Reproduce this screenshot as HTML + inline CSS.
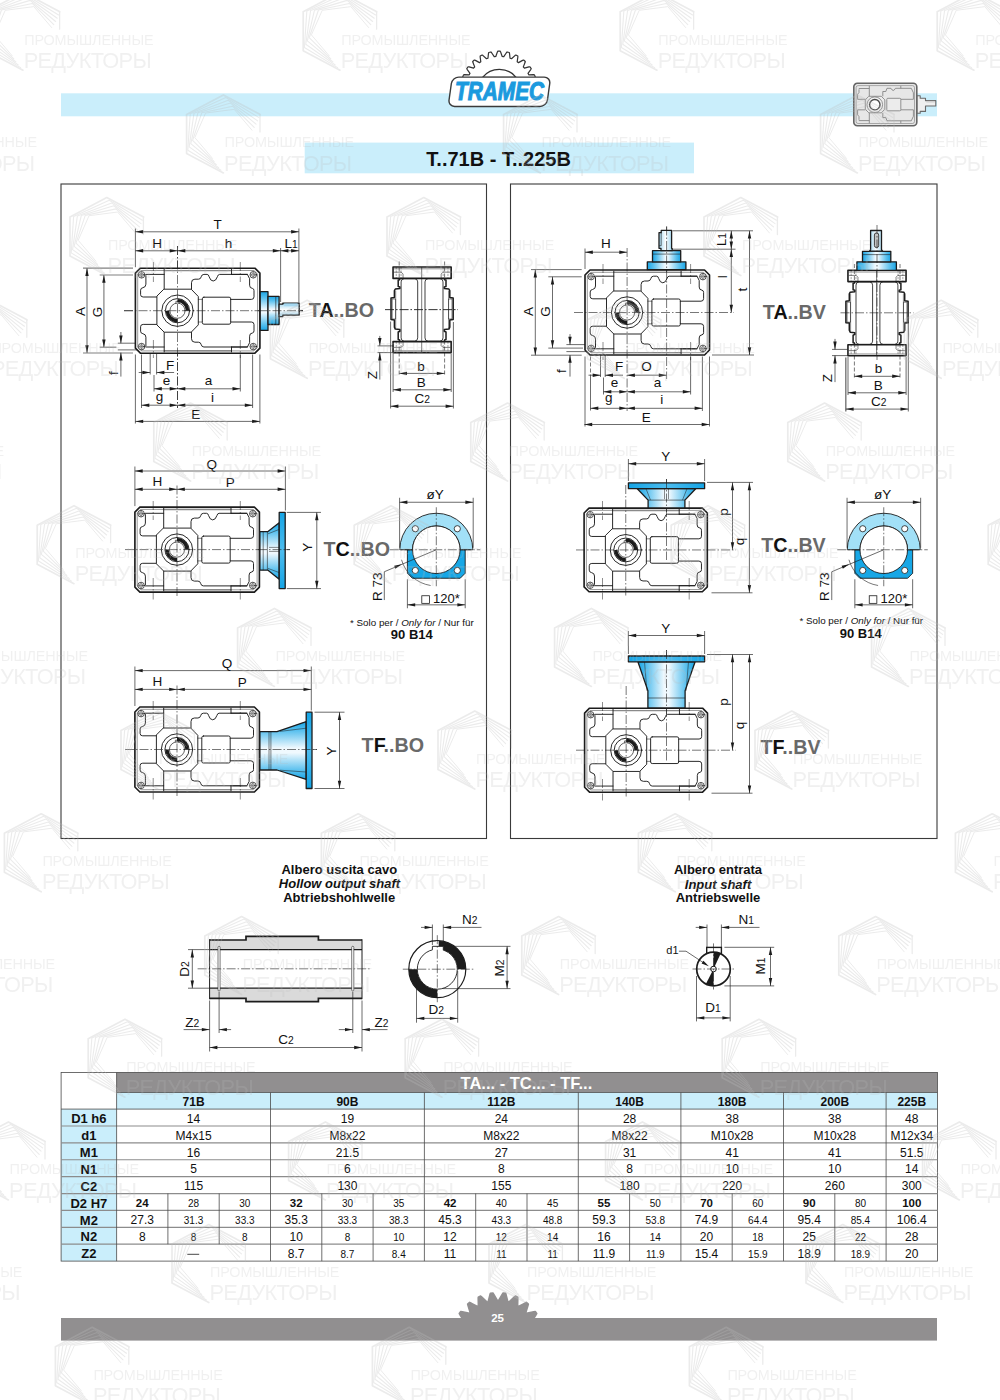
<!DOCTYPE html>
<html lang="en"><head><meta charset="utf-8"><title>T..71B - T..225B</title>
<style>
html,body{margin:0;padding:0;background:#fff;}
body{width:1000px;height:1400px;overflow:hidden;font-family:"Liberation Sans",sans-serif;}
svg{display:block;font-family:"Liberation Sans",sans-serif;}
</style></head><body>
<svg width="1000" height="1400" viewBox="0 0 1000 1400">
<defs>
<linearGradient id="bv" x1="0" y1="0" x2="0" y2="1">
<stop offset="0" stop-color="#1aa5e5"/><stop offset="0.15" stop-color="#56bfee"/><stop offset="0.46" stop-color="#f0f9fe"/><stop offset="0.54" stop-color="#f0f9fe"/><stop offset="0.85" stop-color="#56bfee"/><stop offset="1" stop-color="#1aa5e5"/>
</linearGradient>
<linearGradient id="bh" x1="0" y1="0" x2="1" y2="0">
<stop offset="0" stop-color="#1aa5e5"/><stop offset="0.15" stop-color="#56bfee"/><stop offset="0.46" stop-color="#f0f9fe"/><stop offset="0.54" stop-color="#f0f9fe"/><stop offset="0.85" stop-color="#56bfee"/><stop offset="1" stop-color="#1aa5e5"/>
</linearGradient>
<linearGradient id="sv" x1="0" y1="0" x2="0" y2="1">
<stop offset="0" stop-color="#9fd6f0"/><stop offset="0.5" stop-color="#ffffff"/><stop offset="1" stop-color="#9fd6f0"/>
</linearGradient>
<linearGradient id="sh" x1="0" y1="0" x2="1" y2="0">
<stop offset="0" stop-color="#9fd6f0"/><stop offset="0.5" stop-color="#ffffff"/><stop offset="1" stop-color="#9fd6f0"/>
</linearGradient>
<linearGradient id="pv" x1="0" y1="0" x2="0" y2="1"><stop offset="0" stop-color="#14a4e5"/><stop offset="0.5" stop-color="#4dbcee"/><stop offset="1" stop-color="#14a4e5"/></linearGradient>
<linearGradient id="ph" x1="0" y1="0" x2="1" y2="0"><stop offset="0" stop-color="#14a4e5"/><stop offset="0.5" stop-color="#4dbcee"/><stop offset="1" stop-color="#14a4e5"/></linearGradient>
</defs>
<rect x="0" y="0" width="1000" height="1400" fill="#ffffff"/>

<rect x="61" y="93.3" width="876" height="23" fill="#caeefb"/>
<rect x="304.7" y="142.6" width="389.3" height="30.7" fill="#caeefb"/>
<text x="498.6" y="165.8" font-size="20" text-anchor="middle" font-weight="bold" font-style="normal" fill="#111">T..71B - T..225B</text>
<path d="M466.97,80.78 L463.43,77.75 L462.72,76.93 L463.51,74.85 L464.58,74.7 L469.24,74.79 L469.6,74.07 L469.98,73.37 L467.27,69.58 L466.78,68.61 L468.04,66.78 L469.12,66.9 L473.62,68.09 L474.15,67.48 L474.69,66.89 L472.96,62.56 L472.71,61.51 L474.38,60.03 L475.4,60.4 L479.49,62.64 L480.14,62.18 L480.81,61.73 L480.16,57.12 L480.18,56.03 L482.15,55 L483.05,55.6 L486.48,58.75 L487.23,58.46 L487.98,58.18 L488.46,53.55 L488.73,52.5 L490.9,51.97 L491.62,52.77 L494.2,56.65 L495,56.54 L495.8,56.45 L497.37,52.07 L497.89,51.12 L500.11,51.12 L500.63,52.07 L502.2,56.45 L503,56.54 L503.8,56.65 L506.38,52.77 L507.1,51.97 L509.27,52.5 L509.54,53.55 L510.02,58.18 L510.77,58.46 L511.52,58.75 L514.95,55.6 L515.85,55 L517.82,56.03 L517.84,57.12 L517.19,61.73 L517.86,62.18 L518.51,62.64 L522.6,60.4 L523.62,60.03 L525.29,61.51 L525.04,62.56 L523.31,66.89 L523.85,67.48 L524.38,68.09 L528.88,66.9 L529.96,66.78 L531.22,68.61 L530.73,69.58 L528.02,73.37 L528.4,74.07 L528.76,74.79 L533.42,74.7 L534.49,74.85 L535.28,76.93 L534.57,77.75 L531.03,80.78" fill="#fff" stroke="#333" stroke-width="1.2" stroke-linejoin="round"/>
<path d="M482.5,77.3 A21.6,21.6 0 0 1 516.1,77.3 Z" fill="#fff" stroke="#333" stroke-width="1.2" stroke-linejoin="round"/>
<g transform="translate(499.4 91.8) skewX(-8)"><rect x="-49.2" y="-14.7" width="98.4" height="29.4" rx="6.5" ry="6.5" fill="#fff" stroke="#3a3a3a" stroke-width="1.4"/></g>
<text x="499.6" y="100.2" font-size="25" text-anchor="middle" font-weight="bold" font-style="italic" fill="#1b9ade" textLength="89" lengthAdjust="spacingAndGlyphs" stroke="#1b9ade" stroke-width="1.1">TRAMEC</text>
<g transform="translate(853.8 83.3)" stroke="#7a7a7a" stroke-width="0.8" fill="#e7e7e7" stroke-linejoin="round">
<path d="M63,12.5 H66.4 V14.9 H71.7 V17.3 H82 V22.7 H71.7 V28.1 H66.4 V30 H63 Z" fill="#efefef" stroke="#6a6a6a" stroke-width="1.1"/>
<path d="M72.5,17.6 H81 V19.2 H72.5 Z" fill="#cfcfcf" stroke="none"/>
<rect x="0" y="0" width="63" height="42.5" rx="3.5" ry="3.5" stroke="#666" stroke-width="1.6"/>
<rect x="2.3" y="2.3" width="58.4" height="37.9" rx="2" ry="2" fill="none" stroke-width="0.6"/>
<path d="M15.5,2.5 V13 M15.5,40 V29.5 M5,5.2 H15.5 M5,37.3 H15.5 M47,2.6 V5 M47,40 V37.5" fill="none"/>
<path d="M5.2,6 V9.2 L3.8,11 V16 H11.5 M5.2,36.5 V33.3 L3.8,31.5 V26.5 H11.5" fill="none"/>
<path d="M15,13 H27.5 L31,16.5 V26 L27.5,29.5 H15 L11.5,26 V16.5 Z" fill="#ececec"/>
<path d="M29,13 V8.2 H32 L33.2,5 H37.2 Q39.4,9.4 41.6,5 H57.5 L59.6,9.5 V16 H47" fill="none"/>
<path d="M29,29.5 V34.3 H32 L33.2,37.5 H57.5 L59.6,33 V26.5 H47" fill="none"/>
<rect x="33" y="15" width="14" height="12.5" rx="1" fill="#ececec"/>
<circle cx="21" cy="21.4" r="7.8" fill="#f2f2f2"/><circle cx="21" cy="21.4" r="5.2" fill="#fff" stroke="#4a4a4a" stroke-width="1.4"/>
</g>
<rect x="61" y="184" width="425.5" height="654.5" fill="none" stroke="#3a3a3a" stroke-width="1.1"/>
<rect x="510.5" y="184" width="426.5" height="654.5" fill="none" stroke="#3a3a3a" stroke-width="1.1"/>
<line x1="124" y1="310.7" x2="303" y2="310.7" stroke="#1c1c1c" stroke-width="0.6" stroke-dasharray="9 2 1.5 2"/>
<line x1="177.5" y1="246" x2="177.5" y2="408" stroke="#1c1c1c" stroke-width="0.6" stroke-dasharray="9 2 1.5 2"/>
<line x1="135.4" y1="228.5" x2="135.4" y2="267.2" stroke="#1c1c1c" stroke-width="0.65"/>
<line x1="298.9" y1="228.5" x2="298.9" y2="302.5" stroke="#1c1c1c" stroke-width="0.65"/>
<line x1="280.6" y1="248" x2="280.6" y2="302" stroke="#1c1c1c" stroke-width="0.65"/>
<line x1="135.4" y1="231.8" x2="298.9" y2="231.8" stroke="#1c1c1c" stroke-width="0.65"/>
<path d="M135.4,231.8 L143.2,230.1 L143.2,233.5 Z" fill="#1c1c1c"/>
<path d="M298.9,231.8 L291.1,233.5 L291.1,230.1 Z" fill="#1c1c1c"/>
<line x1="135.4" y1="250.8" x2="177.5" y2="250.8" stroke="#1c1c1c" stroke-width="0.65"/>
<path d="M135.4,250.8 L143.2,249.1 L143.2,252.5 Z" fill="#1c1c1c"/>
<path d="M177.5,250.8 L169.7,252.5 L169.7,249.1 Z" fill="#1c1c1c"/>
<line x1="177.5" y1="250.8" x2="280.6" y2="250.8" stroke="#1c1c1c" stroke-width="0.65"/>
<path d="M177.5,250.8 L185.3,249.1 L185.3,252.5 Z" fill="#1c1c1c"/>
<path d="M280.6,250.8 L272.8,252.5 L272.8,249.1 Z" fill="#1c1c1c"/>
<line x1="280.6" y1="250.8" x2="298.9" y2="250.8" stroke="#1c1c1c" stroke-width="0.65"/>
<path d="M280.6,250.8 L288.4,249.1 L288.4,252.5 Z" fill="#1c1c1c"/>
<path d="M298.9,250.8 L291.1,252.5 L291.1,249.1 Z" fill="#1c1c1c"/>
<text x="217.6" y="228.9" font-size="13.5" text-anchor="middle" font-weight="normal" font-style="normal" fill="#111">T</text>
<text x="157.2" y="248.4" font-size="13.5" text-anchor="middle" font-weight="normal" font-style="normal" fill="#111">H</text>
<text x="228.6" y="248.4" font-size="13.5" text-anchor="middle" font-weight="normal" font-style="normal" fill="#111">h</text>
<text x="291" y="248.4" font-size="13.5" text-anchor="middle" font-weight="normal" font-style="normal" fill="#111">L<tspan font-size="10.26">1</tspan></text>
<line x1="83" y1="268.1" x2="133" y2="268.1" stroke="#808080" stroke-width="1.2"/>
<line x1="83" y1="353" x2="133" y2="353" stroke="#808080" stroke-width="1.2"/>
<line x1="99.7" y1="275" x2="133" y2="275" stroke="#808080" stroke-width="1.2"/>
<line x1="99.7" y1="347.2" x2="116.4" y2="347.2" stroke="#808080" stroke-width="1.2"/>
<line x1="87" y1="268.1" x2="87" y2="353" stroke="#808080" stroke-width="1.2"/>
<path d="M87,268.1 L88.7,275.9 L85.3,275.9 Z" fill="#1c1c1c"/>
<path d="M87,353 L85.3,345.2 L88.7,345.2 Z" fill="#1c1c1c"/>
<line x1="103.9" y1="275" x2="103.9" y2="347.2" stroke="#808080" stroke-width="1.2"/>
<path d="M103.9,275 L105.6,282.8 L102.2,282.8 Z" fill="#1c1c1c"/>
<path d="M103.9,347.2 L102.2,339.4 L105.6,339.4 Z" fill="#1c1c1c"/>
<text x="84.6" y="311.6" font-size="13.5" text-anchor="middle" font-weight="normal" font-style="normal" fill="#111" transform="rotate(-90 84.6 311.6)">A</text>
<text x="101.6" y="312" font-size="13.5" text-anchor="middle" font-weight="normal" font-style="normal" fill="#111" transform="rotate(-90 101.6 312)">G</text>
<line x1="117.8" y1="343.2" x2="138" y2="343.2" stroke="#1c1c1c" stroke-width="0.65"/>
<line x1="117.8" y1="349.9" x2="138" y2="349.9" stroke="#1c1c1c" stroke-width="0.65"/>
<line x1="120.9" y1="332" x2="120.9" y2="343.2" stroke="#1c1c1c" stroke-width="0.65"/>
<line x1="120.9" y1="352.6" x2="120.9" y2="376.6" stroke="#1c1c1c" stroke-width="0.65"/>
<path d="M120.9,343.2 L119.2,335.4 L122.6,335.4 Z" fill="#1c1c1c"/>
<path d="M120.9,352.6 L122.6,360.4 L119.2,360.4 Z" fill="#1c1c1c"/>
<text x="118.4" y="373" font-size="13.5" text-anchor="middle" font-weight="normal" font-style="normal" fill="#111" transform="rotate(-90 118.4 373)">f</text>
<line x1="135.4" y1="354.5" x2="135.4" y2="423.5" stroke="#1c1c1c" stroke-width="0.65"/>
<line x1="259.9" y1="354.5" x2="259.9" y2="423.5" stroke="#1c1c1c" stroke-width="0.65"/>
<line x1="141.5" y1="354.5" x2="141.5" y2="408" stroke="#1c1c1c" stroke-width="0.65"/>
<line x1="150.2" y1="347" x2="150.2" y2="374.5" stroke="#1c1c1c" stroke-width="0.65"/>
<line x1="156.6" y1="347" x2="156.6" y2="374.5" stroke="#1c1c1c" stroke-width="0.65"/>
<line x1="154" y1="375" x2="154" y2="391.5" stroke="#1c1c1c" stroke-width="0.65"/>
<line x1="240.3" y1="354.5" x2="240.3" y2="391.5" stroke="#1c1c1c" stroke-width="0.65"/>
<line x1="252.6" y1="354.5" x2="252.6" y2="408" stroke="#1c1c1c" stroke-width="0.65"/>
<line x1="138.7" y1="372.5" x2="150.2" y2="372.5" stroke="#1c1c1c" stroke-width="0.65"/>
<line x1="156.6" y1="372.5" x2="174.1" y2="372.5" stroke="#1c1c1c" stroke-width="0.65"/>
<path d="M150.2,372.5 L142.4,374.2 L142.4,370.8 Z" fill="#1c1c1c"/>
<path d="M156.6,372.5 L164.4,370.8 L164.4,374.2 Z" fill="#1c1c1c"/>
<text x="170.2" y="370" font-size="13.5" text-anchor="middle" font-weight="normal" font-style="normal" fill="#111">F</text>
<line x1="154" y1="388.8" x2="177.5" y2="388.8" stroke="#1c1c1c" stroke-width="0.65"/>
<path d="M154,388.8 L161.8,387.1 L161.8,390.5 Z" fill="#1c1c1c"/>
<path d="M177.5,388.8 L169.7,390.5 L169.7,387.1 Z" fill="#1c1c1c"/>
<line x1="177.5" y1="388.8" x2="240.3" y2="388.8" stroke="#1c1c1c" stroke-width="0.65"/>
<path d="M177.5,388.8 L185.3,387.1 L185.3,390.5 Z" fill="#1c1c1c"/>
<path d="M240.3,388.8 L232.5,390.5 L232.5,387.1 Z" fill="#1c1c1c"/>
<text x="166.4" y="385.2" font-size="13.5" text-anchor="middle" font-weight="normal" font-style="normal" fill="#111">e</text>
<text x="208.4" y="385.2" font-size="13.5" text-anchor="middle" font-weight="normal" font-style="normal" fill="#111">a</text>
<line x1="141.5" y1="405.2" x2="177.5" y2="405.2" stroke="#1c1c1c" stroke-width="0.65"/>
<path d="M141.5,405.2 L149.3,403.5 L149.3,406.9 Z" fill="#1c1c1c"/>
<path d="M177.5,405.2 L169.7,406.9 L169.7,403.5 Z" fill="#1c1c1c"/>
<line x1="177.5" y1="405.2" x2="252.6" y2="405.2" stroke="#1c1c1c" stroke-width="0.65"/>
<path d="M177.5,405.2 L185.3,403.5 L185.3,406.9 Z" fill="#1c1c1c"/>
<path d="M252.6,405.2 L244.8,406.9 L244.8,403.5 Z" fill="#1c1c1c"/>
<text x="159.5" y="400.8" font-size="13.5" text-anchor="middle" font-weight="normal" font-style="normal" fill="#111">g</text>
<text x="212.6" y="401.6" font-size="13.5" text-anchor="middle" font-weight="normal" font-style="normal" fill="#111">i</text>
<line x1="135.4" y1="421.4" x2="259.9" y2="421.4" stroke="#1c1c1c" stroke-width="0.65"/>
<path d="M135.4,421.4 L143.2,419.7 L143.2,423.1 Z" fill="#1c1c1c"/>
<path d="M259.9,421.4 L252.1,423.1 L252.1,419.7 Z" fill="#1c1c1c"/>
<text x="195.8" y="418.8" font-size="13.5" text-anchor="middle" font-weight="normal" font-style="normal" fill="#111">E</text>
<g transform="translate(135.4 268.2)" fill="none" stroke="#1c1c1c" stroke-width="0.95" stroke-linejoin="round" stroke-linecap="round">
<path d="M5,0 H119.5 L124.5,5 V80.0 L119.5,85.0 H5 L0,80.0 V5 Z" fill="#fff" stroke-width="1.65"/>
<path d="M6,2.3 H118.5 L122.2,6 V79.0 L118.5,82.7 H6 L2.3,79.0 V6 Z" stroke="#555" stroke-width="0.6"/>
<path d="M29,2.4 H96 M29,82.6 H96" stroke="#8a8a8a" stroke-width="1.4"/>
<path d="M10.5,6.2 H28.8 M96.1,6.2 H112"/>
<path d="M28.8,1.2 V21 M96.1,1.2 V6.2"/>
<path d="M10.5,7.5 V16 Q10.5,19 7.5,19.5 Q5.2,19.8 5.2,22 V26.5 Q5.2,28.8 7.8,28.8 H21.5"/>
<path d="M56.1,21 V14.5 Q56.1,11 59.5,11 H63 Q65.3,11 65.8,8.6 Q66.3,6.2 68.5,6.2 H71.7 Q73.2,6.2 73.7,8.5 Q75,12.8 77.8,12.8 Q80.6,12.8 82,8.5 Q82.6,6.2 84.2,6.2 H112 L114.2,10.5 V17 Q114.2,20 117,20.2 Q118.6,20.4 118.6,22.5 V28.6 Q118.6,31.2 116,31.2 H95.3"/>
<circle cx="6.2" cy="6.6" r="3.3" fill="#fff" stroke-width="0.75"/>
<circle cx="6.2" cy="6.6" r="1.8" fill="#fff" stroke-width="0.45"/>
<path d="M6.2,3.7 V9.5 M3.3,6.6 H9.1" stroke-width="0.4"/>
<circle cx="117.9" cy="6.6" r="3.3" fill="#fff" stroke-width="0.75"/>
<circle cx="117.9" cy="6.6" r="1.8" fill="#fff" stroke-width="0.45"/>
<path d="M117.9,3.7 V9.5 M115,6.6 H120.8" stroke-width="0.4"/>
<path d="M10.5,78.8 H28.8 M96.1,78.8 H112"/>
<path d="M28.8,83.8 V64 M96.1,83.8 V78.8"/>
<path d="M10.5,77.5 V69 Q10.5,66 7.5,65.5 Q5.2,65.2 5.2,63 V58.5 Q5.2,56.2 7.8,56.2 H21.5"/>
<path d="M56.1,64 V70.5 Q56.1,74 59.5,74 H63 Q65.3,74 65.8,76.4 Q66.3,78.8 68.5,78.8 H112 L114.2,74.5 V68 Q114.2,65 117,64.8 Q118.6,64.6 118.6,62.5 V56.4 Q118.6,53.8 116,53.8 H95.3"/>
<circle cx="6.2" cy="78.4" r="3.3" fill="#fff" stroke-width="0.75"/>
<circle cx="6.2" cy="78.4" r="1.8" fill="#fff" stroke-width="0.45"/>
<path d="M6.2,75.5 V81.3 M3.3,78.4 H9.1" stroke-width="0.4"/>
<circle cx="117.9" cy="78.4" r="3.3" fill="#fff" stroke-width="0.75"/>
<circle cx="117.9" cy="78.4" r="1.8" fill="#fff" stroke-width="0.45"/>
<path d="M117.9,75.5 V81.3 M115,78.4 H120.8" stroke-width="0.4"/>
<path d="M28.8,21 H55.8 L62.9,28.3 V56.7 L55.8,64 H28.8 L21.5,56.7 V28.3 Z" fill="#fff"/>
<rect x="66.9" y="29" width="28.4" height="27" rx="1.6" ry="1.6"/>
<path d="M62.9,31.2 H66.9 M62.9,53.8 H66.9" stroke-width="0.55"/>
<circle cx="42.1" cy="42.5" r="15.7" fill="#fff"/>
<circle cx="42.1" cy="42.5" r="12.1"/>
<circle cx="42.1" cy="42.5" r="7.6" stroke-width="0.7"/>
<path d="M42.1,32.5 A10.0,10.0 0 0 1 52.1,42.5" stroke-width="3.3" stroke-linecap="butt"/>
<path d="M32.1,42.5 A10.0,10.0 0 0 0 42.1,52.5" stroke-width="3.3" stroke-linecap="butt"/>
<path d="M40.5,34.8 V33.1 H43.7 V34.8" stroke-width="0.6"/>
</g>
<line x1="124" y1="310.7" x2="303" y2="310.7" stroke="#1c1c1c" stroke-width="0.6" stroke-dasharray="9 2 1.5 2"/>
<line x1="177.5" y1="246" x2="177.5" y2="408" stroke="#1c1c1c" stroke-width="0.6" stroke-dasharray="9 2 1.5 2"/>
<line x1="153.4" y1="262" x2="153.4" y2="282" stroke="#1c1c1c" stroke-width="0.5" stroke-dasharray="9 2 1.5 2"/>
<line x1="240.3" y1="262" x2="240.3" y2="282" stroke="#1c1c1c" stroke-width="0.5" stroke-dasharray="9 2 1.5 2"/>
<line x1="153.4" y1="340" x2="153.4" y2="358" stroke="#1c1c1c" stroke-width="0.5" stroke-dasharray="9 2 1.5 2"/>
<line x1="240.3" y1="340" x2="240.3" y2="358" stroke="#1c1c1c" stroke-width="0.5" stroke-dasharray="9 2 1.5 2"/>
<g stroke="#1c1c1c" stroke-width="1.3" stroke-linejoin="round">
<rect x="260.2" y="291.7" width="7.8" height="38.7" fill="url(#bv)"/>
<rect x="268" y="296.3" width="11.1" height="28.2" fill="url(#bv)"/>
<path d="M275.8,296.3 V324.5" stroke-width="0.6"/>
<path d="M279.1,304.2 H282.8 V303.1 H299.2 V315.1 H282.8 V316.6 H279.1 Z" fill="url(#sv)"/>
<path d="M284.2,303.4 H297.6 V306.2 H284.2 Z" fill="#a5d8f1" stroke="none"/>
</g>
<line x1="258" y1="310.7" x2="303" y2="310.7" stroke="#1c1c1c" stroke-width="0.6" stroke-dasharray="9 2 1.5 2"/>
<text x="308.8" y="316.8" font-size="19.7" font-weight="bold" fill="#696969">T<tspan fill="#111">A</tspan>..BO</text>
<line x1="385" y1="309.6" x2="458" y2="309.6" stroke="#1c1c1c" stroke-width="0.6" stroke-dasharray="9 2 1.5 2"/>
<line x1="399.2" y1="261.5" x2="399.2" y2="279" stroke="#1c1c1c" stroke-width="0.6" stroke-dasharray="4 2"/>
<line x1="444.6" y1="261.5" x2="444.6" y2="279" stroke="#1c1c1c" stroke-width="0.6" stroke-dasharray="4 2"/>
<line x1="399.2" y1="340.5" x2="399.2" y2="374.5" stroke="#1c1c1c" stroke-width="0.6" stroke-dasharray="4 2"/>
<line x1="444.6" y1="340.5" x2="444.6" y2="374.5" stroke="#1c1c1c" stroke-width="0.6" stroke-dasharray="4 2"/>
<line x1="393.1" y1="353.5" x2="393.1" y2="392" stroke="#1c1c1c" stroke-width="0.65"/>
<line x1="451.2" y1="353.5" x2="451.2" y2="392" stroke="#1c1c1c" stroke-width="0.65"/>
<line x1="390.6" y1="321.5" x2="390.6" y2="408.5" stroke="#1c1c1c" stroke-width="0.65"/>
<line x1="453.4" y1="322" x2="453.4" y2="408.5" stroke="#1c1c1c" stroke-width="0.65"/>
<g transform="translate(422.1 309.6)" fill="none" stroke="#1c1c1c" stroke-width="0.7" stroke-linejoin="round">
<path d="M-22.4,-31.2 L-22.4,-29.8 L-23.9,-29.5 L-23.9,-23 L-22.2,-22.6 L-22.2,-21 L-26.8,-20.6 L-27.7,-19 L-27.7,-12 L-31.1,-11.5 L-31.1,9.9 L-27.7,10.3 L-27.7,17.5 L-26.8,19.5 L-22.2,19.9 L-22.2,21.6 L-23.9,22.4 L-23.9,30 L-22.4,30.3 L-22.4,31.9" stroke-width="1.5"/>
<rect x="-29.9" y="-10.6" width="3.4" height="20" stroke-width="0.55"/>
<path d="M-26.4,-19 V19" stroke-width="0.5"/>
<path d="M22.4,-31.2 L22.4,-29.8 L23.9,-29.5 L23.9,-23 L22.2,-22.6 L22.2,-21 L26.8,-20.6 L27.7,-19 L27.7,-12 L31.1,-11.5 L31.1,9.9 L27.7,10.3 L27.7,17.5 L26.8,19.5 L22.2,19.9 L22.2,21.6 L23.9,22.4 L23.9,30 L22.4,30.3 L22.4,31.9" stroke-width="1.5"/>
<rect x="26.5" y="-10.6" width="3.4" height="20" stroke-width="0.55"/>
<path d="M26.4,-19 V19" stroke-width="0.5"/>
<rect x="-21.0" y="-30.9" width="16.6" height="62.4" rx="3.2" ry="3.2" stroke-width="0.85"/>
<rect x="2.9" y="-30.9" width="18.0" height="62.4" rx="3.2" ry="3.2" stroke-width="0.85"/>
<path d="M-0.4,-42.6 V43" stroke-width="0.6"/>
<rect x="-29.05" y="-42.6" width="58.1" height="11.4" stroke-width="1.6" fill="none"/>
<path d="M-28.05,-40.8 H28.05" stroke-width="0.5"/>
<path d="M28.25,-37.4 H20.85 L19.05,-35.6 V-31.2" stroke-width="0.55"/>
<path d="M25.85,-42.6 V-31.2 M21.05,-42.6 V-31.2" stroke-width="0.4" stroke-dasharray="2.2 1.2"/>
<path d="M-28.25,-37.4 H-20.85 L-19.05,-35.6 V-31.2" stroke-width="0.55"/>
<path d="M-25.85,-42.6 V-31.2 M-21.05,-42.6 V-31.2" stroke-width="0.4" stroke-dasharray="2.2 1.2"/>
<rect x="-29.05" y="32.0" width="58.1" height="11" stroke-width="1.6" fill="none"/>
<path d="M-28.05,41.2 H28.05" stroke-width="0.5"/>
<path d="M28.25,37.8 H20.85 L19.05,36 V32" stroke-width="0.55"/>
<path d="M25.85,32 V43 M21.05,32 V43" stroke-width="0.4" stroke-dasharray="2.2 1.2"/>
<path d="M-28.25,37.8 H-20.85 L-19.05,36 V32" stroke-width="0.55"/>
<path d="M-25.85,32 V43 M-21.05,32 V43" stroke-width="0.4" stroke-dasharray="2.2 1.2"/>
</g>
<line x1="385" y1="309.6" x2="458" y2="309.6" stroke="#1c1c1c" stroke-width="0.6" stroke-dasharray="9 2 1.5 2"/>
<line x1="377.5" y1="345.9" x2="393" y2="345.9" stroke="#1c1c1c" stroke-width="0.65"/>
<line x1="377.5" y1="352.6" x2="393" y2="352.6" stroke="#1c1c1c" stroke-width="0.65"/>
<line x1="379.8" y1="335.9" x2="379.8" y2="345.9" stroke="#1c1c1c" stroke-width="0.65"/>
<line x1="379.8" y1="352.6" x2="379.8" y2="379.6" stroke="#1c1c1c" stroke-width="0.65"/>
<path d="M379.8,345.9 L378.1,338.1 L381.5,338.1 Z" fill="#1c1c1c"/>
<path d="M379.8,352.6 L381.5,360.4 L378.1,360.4 Z" fill="#1c1c1c"/>
<text x="377" y="375" font-size="13.5" text-anchor="middle" font-weight="normal" font-style="normal" fill="#111" transform="rotate(-90 377 375)">Z</text>
<line x1="399.2" y1="373.4" x2="444.6" y2="373.4" stroke="#1c1c1c" stroke-width="0.65"/>
<path d="M399.2,373.4 L407,371.7 L407,375.1 Z" fill="#1c1c1c"/>
<path d="M444.6,373.4 L436.8,375.1 L436.8,371.7 Z" fill="#1c1c1c"/>
<text x="421" y="370.6" font-size="13.5" text-anchor="middle" font-weight="normal" font-style="normal" fill="#111">b</text>
<line x1="393.1" y1="389.8" x2="451.2" y2="389.8" stroke="#1c1c1c" stroke-width="0.65"/>
<path d="M393.1,389.8 L400.9,388.1 L400.9,391.5 Z" fill="#1c1c1c"/>
<path d="M451.2,389.8 L443.4,391.5 L443.4,388.1 Z" fill="#1c1c1c"/>
<text x="421.2" y="386.6" font-size="13.5" text-anchor="middle" font-weight="normal" font-style="normal" fill="#111">B</text>
<line x1="390.6" y1="406.2" x2="453.4" y2="406.2" stroke="#1c1c1c" stroke-width="0.65"/>
<path d="M390.6,406.2 L398.4,404.5 L398.4,407.9 Z" fill="#1c1c1c"/>
<path d="M453.4,406.2 L445.6,407.9 L445.6,404.5 Z" fill="#1c1c1c"/>
<text x="422.2" y="403" font-size="13.5" text-anchor="middle" font-weight="normal" font-style="normal" fill="#111">C<tspan font-size="10.26">2</tspan></text>
<line x1="134.9" y1="466.5" x2="134.9" y2="506.1" stroke="#1c1c1c" stroke-width="0.65"/>
<line x1="285.4" y1="466.5" x2="285.4" y2="510.5" stroke="#1c1c1c" stroke-width="0.65"/>
<line x1="134.9" y1="471" x2="285.4" y2="471" stroke="#1c1c1c" stroke-width="0.65"/>
<path d="M134.9,471 L142.7,469.3 L142.7,472.7 Z" fill="#1c1c1c"/>
<path d="M285.4,471 L277.6,472.7 L277.6,469.3 Z" fill="#1c1c1c"/>
<text x="211.8" y="468.6" font-size="13.5" text-anchor="middle" font-weight="normal" font-style="normal" fill="#111">Q</text>
<line x1="134.9" y1="489.3" x2="177" y2="489.3" stroke="#1c1c1c" stroke-width="0.65"/>
<path d="M134.9,489.3 L142.7,487.6 L142.7,491 Z" fill="#1c1c1c"/>
<path d="M177,489.3 L169.2,491 L169.2,487.6 Z" fill="#1c1c1c"/>
<line x1="177" y1="489.3" x2="285.4" y2="489.3" stroke="#1c1c1c" stroke-width="0.65"/>
<path d="M177,489.3 L184.8,487.6 L184.8,491 Z" fill="#1c1c1c"/>
<path d="M285.4,489.3 L277.6,491 L277.6,487.6 Z" fill="#1c1c1c"/>
<text x="157.4" y="485.6" font-size="13.5" text-anchor="middle" font-weight="normal" font-style="normal" fill="#111">H</text>
<text x="230.3" y="487.4" font-size="13.5" text-anchor="middle" font-weight="normal" font-style="normal" fill="#111">P</text>
<g transform="translate(134.9 507.1)" fill="none" stroke="#1c1c1c" stroke-width="0.95" stroke-linejoin="round" stroke-linecap="round">
<path d="M5,0 H119.5 L124.5,5 V80.0 L119.5,85.0 H5 L0,80.0 V5 Z" fill="#fff" stroke-width="1.65"/>
<path d="M6,2.3 H118.5 L122.2,6 V79.0 L118.5,82.7 H6 L2.3,79.0 V6 Z" stroke="#555" stroke-width="0.6"/>
<path d="M29,2.4 H96 M29,82.6 H96" stroke="#8a8a8a" stroke-width="1.4"/>
<path d="M10.5,6.2 H28.8 M96.1,6.2 H112"/>
<path d="M28.8,1.2 V21 M96.1,1.2 V6.2"/>
<path d="M10.5,7.5 V16 Q10.5,19 7.5,19.5 Q5.2,19.8 5.2,22 V26.5 Q5.2,28.8 7.8,28.8 H21.5"/>
<path d="M56.1,21 V14.5 Q56.1,11 59.5,11 H63 Q65.3,11 65.8,8.6 Q66.3,6.2 68.5,6.2 H71.7 Q73.2,6.2 73.7,8.5 Q75,12.8 77.8,12.8 Q80.6,12.8 82,8.5 Q82.6,6.2 84.2,6.2 H112 L114.2,10.5 V17 Q114.2,20 117,20.2 Q118.6,20.4 118.6,22.5 V28.6 Q118.6,31.2 116,31.2 H95.3"/>
<circle cx="6.2" cy="6.6" r="3.3" fill="#fff" stroke-width="0.75"/>
<circle cx="6.2" cy="6.6" r="1.8" fill="#fff" stroke-width="0.45"/>
<path d="M6.2,3.7 V9.5 M3.3,6.6 H9.1" stroke-width="0.4"/>
<circle cx="117.9" cy="6.6" r="3.3" fill="#fff" stroke-width="0.75"/>
<circle cx="117.9" cy="6.6" r="1.8" fill="#fff" stroke-width="0.45"/>
<path d="M117.9,3.7 V9.5 M115,6.6 H120.8" stroke-width="0.4"/>
<path d="M10.5,78.8 H28.8 M96.1,78.8 H112"/>
<path d="M28.8,83.8 V64 M96.1,83.8 V78.8"/>
<path d="M10.5,77.5 V69 Q10.5,66 7.5,65.5 Q5.2,65.2 5.2,63 V58.5 Q5.2,56.2 7.8,56.2 H21.5"/>
<path d="M56.1,64 V70.5 Q56.1,74 59.5,74 H63 Q65.3,74 65.8,76.4 Q66.3,78.8 68.5,78.8 H112 L114.2,74.5 V68 Q114.2,65 117,64.8 Q118.6,64.6 118.6,62.5 V56.4 Q118.6,53.8 116,53.8 H95.3"/>
<circle cx="6.2" cy="78.4" r="3.3" fill="#fff" stroke-width="0.75"/>
<circle cx="6.2" cy="78.4" r="1.8" fill="#fff" stroke-width="0.45"/>
<path d="M6.2,75.5 V81.3 M3.3,78.4 H9.1" stroke-width="0.4"/>
<circle cx="117.9" cy="78.4" r="3.3" fill="#fff" stroke-width="0.75"/>
<circle cx="117.9" cy="78.4" r="1.8" fill="#fff" stroke-width="0.45"/>
<path d="M117.9,75.5 V81.3 M115,78.4 H120.8" stroke-width="0.4"/>
<path d="M28.8,21 H55.8 L62.9,28.3 V56.7 L55.8,64 H28.8 L21.5,56.7 V28.3 Z" fill="#fff"/>
<rect x="66.9" y="29" width="28.4" height="27" rx="1.6" ry="1.6"/>
<path d="M62.9,31.2 H66.9 M62.9,53.8 H66.9" stroke-width="0.55"/>
<circle cx="42.1" cy="42.5" r="15.7" fill="#fff"/>
<circle cx="42.1" cy="42.5" r="12.1"/>
<circle cx="42.1" cy="42.5" r="7.6" stroke-width="0.7"/>
<path d="M42.1,32.5 A10.0,10.0 0 0 1 52.1,42.5" stroke-width="3.3" stroke-linecap="butt"/>
<path d="M32.1,42.5 A10.0,10.0 0 0 0 42.1,52.5" stroke-width="3.3" stroke-linecap="butt"/>
<path d="M40.5,34.8 V33.1 H43.7 V34.8" stroke-width="0.6"/>
</g>
<line x1="125" y1="549.6" x2="290" y2="549.6" stroke="#1c1c1c" stroke-width="0.6" stroke-dasharray="9 2 1.5 2"/>
<line x1="177" y1="485.5" x2="177" y2="596" stroke="#1c1c1c" stroke-width="0.6" stroke-dasharray="9 2 1.5 2"/>
<line x1="153.2" y1="501" x2="153.2" y2="520" stroke="#1c1c1c" stroke-width="0.5" stroke-dasharray="9 2 1.5 2"/>
<line x1="153.2" y1="578" x2="153.2" y2="599.5" stroke="#1c1c1c" stroke-width="0.5" stroke-dasharray="9 2 1.5 2"/>
<line x1="240.3" y1="501" x2="240.3" y2="520" stroke="#1c1c1c" stroke-width="0.5" stroke-dasharray="9 2 1.5 2"/>
<line x1="240.3" y1="578" x2="240.3" y2="599.5" stroke="#1c1c1c" stroke-width="0.5" stroke-dasharray="9 2 1.5 2"/>
<g stroke="#1c1c1c" stroke-width="1.3" stroke-linejoin="round">
<path d="M259.9,531.6 H268 L279.2,522.8 V579.2 L268,570.2 H259.9 Z" fill="url(#bv)"/>
<path d="M263.2,531.6 V570.2 M267.4,532 V570" stroke-width="0.55"/>
<path d="M268,533.8 L279.2,529.4 M268,568.4 L279.2,572.6" stroke-width="0.5"/>
<rect x="279.2" y="512.4" width="6.0" height="76.2" fill="url(#pv)"/>
<path d="M269,547.4 H279 M269,551.4 H279" stroke-width="0.5"/>
</g>
<line x1="258" y1="549.6" x2="290" y2="549.6" stroke="#1c1c1c" stroke-width="0.6" stroke-dasharray="9 2 1.5 2"/>
<line x1="286.8" y1="512.4" x2="321" y2="512.4" stroke="#1c1c1c" stroke-width="0.65"/>
<line x1="286.8" y1="588.6" x2="321" y2="588.6" stroke="#1c1c1c" stroke-width="0.65"/>
<line x1="316.8" y1="512.4" x2="316.8" y2="588.6" stroke="#1c1c1c" stroke-width="0.65"/>
<path d="M316.8,512.4 L318.5,520.2 L315.1,520.2 Z" fill="#1c1c1c"/>
<path d="M316.8,588.6 L315.1,580.8 L318.5,580.8 Z" fill="#1c1c1c"/>
<text x="311.6" y="547.2" font-size="13.5" text-anchor="middle" font-weight="normal" font-style="normal" fill="#111" transform="rotate(-90 311.6 547.2)">Y</text>
<text x="323.4" y="555.6" font-size="19.7" font-weight="bold" fill="#696969">T<tspan fill="#111">C</tspan>..BO</text>
<path d="M407.4,549.75 H465.2 V573.25 L460.2,578.25 H412.4 L407.4,573.25 Z" fill="#17a7e6" stroke="#1c1c1c" stroke-width="0.9" stroke-linejoin="round"/>
<path d="M399.8,549.75 A36.5,36.5 0 0 1 472.8,549.75 H460.1 A23.8,23.8 0 0 0 412.5,549.75 Z" fill="#a2e0f7" stroke="#1c1c1c" stroke-width="0.9"/>
<circle cx="436.3" cy="549.75" r="23.8" fill="#fff" stroke="#1c1c1c" stroke-width="0.9"/>
<circle cx="415.3" cy="528.75" r="3.1" fill="#fff" stroke="#1c1c1c" stroke-width="0.8"/>
<circle cx="457.3" cy="528.75" r="3.1" fill="#fff" stroke="#1c1c1c" stroke-width="0.8"/>
<circle cx="415.3" cy="570.45" r="3.1" fill="#fff" stroke="#1c1c1c" stroke-width="0.8"/>
<circle cx="457.3" cy="570.45" r="3.1" fill="#fff" stroke="#1c1c1c" stroke-width="0.8"/>
<line x1="389.8" y1="549.75" x2="480.3" y2="549.75" stroke="#1c1c1c" stroke-width="0.6" stroke-dasharray="9 2 1.5 2"/>
<line x1="436.3" y1="507.25" x2="436.3" y2="586.25" stroke="#1c1c1c" stroke-width="0.6" stroke-dasharray="9 2 1.5 2"/>
<line x1="399.6" y1="497.75" x2="399.6" y2="547.75" stroke="#1c1c1c" stroke-width="0.65"/>
<line x1="473.2" y1="497.75" x2="473.2" y2="547.75" stroke="#1c1c1c" stroke-width="0.65"/>
<line x1="399.6" y1="502.25" x2="473.2" y2="502.25" stroke="#1c1c1c" stroke-width="0.65"/>
<path d="M399.6,502.25 L407.4,500.55 L407.4,503.95 Z" fill="#1c1c1c"/>
<path d="M473.2,502.25 L465.4,503.95 L465.4,500.55 Z" fill="#1c1c1c"/>
<text x="435.1" y="498.75" font-size="13.5" text-anchor="middle" font-weight="normal" font-style="normal" fill="#111">øY</text>
<line x1="407.4" y1="579.25" x2="407.4" y2="608.25" stroke="#1c1c1c" stroke-width="0.65"/>
<line x1="465.2" y1="579.25" x2="465.2" y2="608.25" stroke="#1c1c1c" stroke-width="0.65"/>
<line x1="407.4" y1="604.85" x2="465.2" y2="604.85" stroke="#1c1c1c" stroke-width="0.65"/>
<path d="M407.4,604.85 L415.2,603.15 L415.2,606.55 Z" fill="#1c1c1c"/>
<path d="M465.2,604.85 L457.4,606.55 L457.4,603.15 Z" fill="#1c1c1c"/>
<rect x="421.8" y="595.75" width="7.6" height="7.6" fill="none" stroke="#1c1c1c" stroke-width="0.8"/>
<text x="433.1" y="603.35" font-size="13" text-anchor="start" font-weight="normal" font-style="normal" fill="#111">120*</text>
<line x1="436.3" y1="549.75" x2="384.3" y2="571.75" stroke="#1c1c1c" stroke-width="0.65"/>
<line x1="384.3" y1="571.75" x2="384.3" y2="600.05" stroke="#1c1c1c" stroke-width="0.65"/>
<path d="M401.7,564.35 L395.41,568.74 L394.17,565.79 Z" fill="#1c1c1c"/>
<path d="M401.5,559.73 A36.2,36.2 0 0 0 430.64,585.5" fill="none" stroke="#1c1c1c" stroke-width="0.6"/>
<text x="381.9" y="586.75" font-size="13.5" text-anchor="middle" font-weight="normal" font-style="normal" fill="#111" transform="rotate(-90 381.9 586.75)">R 73</text>
<text x="411.85" y="626.25" font-size="9.8" text-anchor="middle" font-weight="normal" font-style="normal" fill="#111">* Solo per / <tspan font-style="italic">Only for</tspan> / Nur für</text>
<text x="411.8" y="639.3" font-size="13" text-anchor="middle" font-weight="bold" font-style="normal" fill="#111">90 B14</text>
<line x1="134.9" y1="666.5" x2="134.9" y2="706" stroke="#1c1c1c" stroke-width="0.65"/>
<line x1="311.3" y1="666.5" x2="311.3" y2="710.5" stroke="#1c1c1c" stroke-width="0.65"/>
<line x1="134.9" y1="670.6" x2="311.3" y2="670.6" stroke="#1c1c1c" stroke-width="0.65"/>
<path d="M134.9,670.6 L142.7,668.9 L142.7,672.3 Z" fill="#1c1c1c"/>
<path d="M311.3,670.6 L303.5,672.3 L303.5,668.9 Z" fill="#1c1c1c"/>
<text x="226.9" y="668.2" font-size="13.5" text-anchor="middle" font-weight="normal" font-style="normal" fill="#111">Q</text>
<line x1="134.9" y1="689.4" x2="177" y2="689.4" stroke="#1c1c1c" stroke-width="0.65"/>
<path d="M134.9,689.4 L142.7,687.7 L142.7,691.1 Z" fill="#1c1c1c"/>
<path d="M177,689.4 L169.2,691.1 L169.2,687.7 Z" fill="#1c1c1c"/>
<line x1="177" y1="689.4" x2="311.3" y2="689.4" stroke="#1c1c1c" stroke-width="0.65"/>
<path d="M177,689.4 L184.8,687.7 L184.8,691.1 Z" fill="#1c1c1c"/>
<path d="M311.3,689.4 L303.5,691.1 L303.5,687.7 Z" fill="#1c1c1c"/>
<text x="157.4" y="685.6" font-size="13.5" text-anchor="middle" font-weight="normal" font-style="normal" fill="#111">H</text>
<text x="242.2" y="687.4" font-size="13.5" text-anchor="middle" font-weight="normal" font-style="normal" fill="#111">P</text>
<g transform="translate(134.9 707)" fill="none" stroke="#1c1c1c" stroke-width="0.95" stroke-linejoin="round" stroke-linecap="round">
<path d="M5,0 H119.5 L124.5,5 V80.0 L119.5,85.0 H5 L0,80.0 V5 Z" fill="#fff" stroke-width="1.65"/>
<path d="M6,2.3 H118.5 L122.2,6 V79.0 L118.5,82.7 H6 L2.3,79.0 V6 Z" stroke="#555" stroke-width="0.6"/>
<path d="M29,2.4 H96 M29,82.6 H96" stroke="#8a8a8a" stroke-width="1.4"/>
<path d="M10.5,6.2 H28.8 M96.1,6.2 H112"/>
<path d="M28.8,1.2 V21 M96.1,1.2 V6.2"/>
<path d="M10.5,7.5 V16 Q10.5,19 7.5,19.5 Q5.2,19.8 5.2,22 V26.5 Q5.2,28.8 7.8,28.8 H21.5"/>
<path d="M56.1,21 V14.5 Q56.1,11 59.5,11 H63 Q65.3,11 65.8,8.6 Q66.3,6.2 68.5,6.2 H71.7 Q73.2,6.2 73.7,8.5 Q75,12.8 77.8,12.8 Q80.6,12.8 82,8.5 Q82.6,6.2 84.2,6.2 H112 L114.2,10.5 V17 Q114.2,20 117,20.2 Q118.6,20.4 118.6,22.5 V28.6 Q118.6,31.2 116,31.2 H95.3"/>
<circle cx="6.2" cy="6.6" r="3.3" fill="#fff" stroke-width="0.75"/>
<circle cx="6.2" cy="6.6" r="1.8" fill="#fff" stroke-width="0.45"/>
<path d="M6.2,3.7 V9.5 M3.3,6.6 H9.1" stroke-width="0.4"/>
<circle cx="117.9" cy="6.6" r="3.3" fill="#fff" stroke-width="0.75"/>
<circle cx="117.9" cy="6.6" r="1.8" fill="#fff" stroke-width="0.45"/>
<path d="M117.9,3.7 V9.5 M115,6.6 H120.8" stroke-width="0.4"/>
<path d="M10.5,78.8 H28.8 M96.1,78.8 H112"/>
<path d="M28.8,83.8 V64 M96.1,83.8 V78.8"/>
<path d="M10.5,77.5 V69 Q10.5,66 7.5,65.5 Q5.2,65.2 5.2,63 V58.5 Q5.2,56.2 7.8,56.2 H21.5"/>
<path d="M56.1,64 V70.5 Q56.1,74 59.5,74 H63 Q65.3,74 65.8,76.4 Q66.3,78.8 68.5,78.8 H112 L114.2,74.5 V68 Q114.2,65 117,64.8 Q118.6,64.6 118.6,62.5 V56.4 Q118.6,53.8 116,53.8 H95.3"/>
<circle cx="6.2" cy="78.4" r="3.3" fill="#fff" stroke-width="0.75"/>
<circle cx="6.2" cy="78.4" r="1.8" fill="#fff" stroke-width="0.45"/>
<path d="M6.2,75.5 V81.3 M3.3,78.4 H9.1" stroke-width="0.4"/>
<circle cx="117.9" cy="78.4" r="3.3" fill="#fff" stroke-width="0.75"/>
<circle cx="117.9" cy="78.4" r="1.8" fill="#fff" stroke-width="0.45"/>
<path d="M117.9,75.5 V81.3 M115,78.4 H120.8" stroke-width="0.4"/>
<path d="M28.8,21 H55.8 L62.9,28.3 V56.7 L55.8,64 H28.8 L21.5,56.7 V28.3 Z" fill="#fff"/>
<rect x="66.9" y="29" width="28.4" height="27" rx="1.6" ry="1.6"/>
<path d="M62.9,31.2 H66.9 M62.9,53.8 H66.9" stroke-width="0.55"/>
<circle cx="42.1" cy="42.5" r="15.7" fill="#fff"/>
<circle cx="42.1" cy="42.5" r="12.1"/>
<circle cx="42.1" cy="42.5" r="7.6" stroke-width="0.7"/>
<path d="M42.1,32.5 A10.0,10.0 0 0 1 52.1,42.5" stroke-width="3.3" stroke-linecap="butt"/>
<path d="M32.1,42.5 A10.0,10.0 0 0 0 42.1,52.5" stroke-width="3.3" stroke-linecap="butt"/>
<path d="M40.5,34.8 V33.1 H43.7 V34.8" stroke-width="0.6"/>
</g>
<line x1="125" y1="749.5" x2="317" y2="749.5" stroke="#1c1c1c" stroke-width="0.6" stroke-dasharray="9 2 1.5 2"/>
<line x1="177" y1="685.5" x2="177" y2="796" stroke="#1c1c1c" stroke-width="0.6" stroke-dasharray="9 2 1.5 2"/>
<line x1="153.2" y1="701" x2="153.2" y2="720" stroke="#1c1c1c" stroke-width="0.5" stroke-dasharray="9 2 1.5 2"/>
<line x1="153.2" y1="778" x2="153.2" y2="799.5" stroke="#1c1c1c" stroke-width="0.5" stroke-dasharray="9 2 1.5 2"/>
<line x1="240.3" y1="701" x2="240.3" y2="720" stroke="#1c1c1c" stroke-width="0.5" stroke-dasharray="9 2 1.5 2"/>
<line x1="240.3" y1="778" x2="240.3" y2="799.5" stroke="#1c1c1c" stroke-width="0.5" stroke-dasharray="9 2 1.5 2"/>
<g stroke="#1c1c1c" stroke-width="1.3" stroke-linejoin="round">
<path d="M259.9,731.6 H277 L306.2,721.6 V779.4 L277,770 H259.9 Z" fill="url(#bv)"/>
<path d="M269,731.6 V770 M270.9,731.6 V770" stroke-width="0.55"/>
<path d="M280,731.4 L306.2,728.2 M280,770.2 L306.2,772" stroke-width="0.5"/>
<rect x="306.2" y="712.2" width="5.8" height="76.3" fill="url(#pv)"/>
</g>
<line x1="258" y1="749.5" x2="317" y2="749.5" stroke="#1c1c1c" stroke-width="0.6" stroke-dasharray="9 2 1.5 2"/>
<line x1="314.5" y1="712.2" x2="344.5" y2="712.2" stroke="#1c1c1c" stroke-width="0.65"/>
<line x1="314.5" y1="788.5" x2="344.5" y2="788.5" stroke="#1c1c1c" stroke-width="0.65"/>
<line x1="339.5" y1="712.2" x2="339.5" y2="788.5" stroke="#1c1c1c" stroke-width="0.65"/>
<path d="M339.5,712.2 L341.2,720 L337.8,720 Z" fill="#1c1c1c"/>
<path d="M339.5,788.5 L337.8,780.7 L341.2,780.7 Z" fill="#1c1c1c"/>
<text x="335.8" y="751" font-size="13.5" text-anchor="middle" font-weight="normal" font-style="normal" fill="#111" transform="rotate(-90 335.8 751)">Y</text>
<text x="361.6" y="752.2" font-size="19.7" font-weight="bold" fill="#696969">T<tspan fill="#111">F</tspan>..BO</text>
<line x1="585" y1="248.5" x2="585" y2="269" stroke="#1c1c1c" stroke-width="0.65"/>
<line x1="672.5" y1="230.8" x2="753" y2="230.8" stroke="#1c1c1c" stroke-width="0.65"/>
<line x1="672.5" y1="249.2" x2="735.5" y2="249.2" stroke="#1c1c1c" stroke-width="0.65"/>
<line x1="712" y1="355" x2="754" y2="355" stroke="#1c1c1c" stroke-width="0.65"/>
<line x1="585" y1="252.2" x2="627.1" y2="252.2" stroke="#1c1c1c" stroke-width="0.65"/>
<path d="M585,252.2 L592.8,250.5 L592.8,253.9 Z" fill="#1c1c1c"/>
<path d="M627.1,252.2 L619.3,253.9 L619.3,250.5 Z" fill="#1c1c1c"/>
<text x="605.8" y="248.4" font-size="13.5" text-anchor="middle" font-weight="normal" font-style="normal" fill="#111">H</text>
<line x1="731.3" y1="230.8" x2="731.3" y2="249.2" stroke="#1c1c1c" stroke-width="0.65"/>
<path d="M731.3,230.8 L733,238.6 L729.6,238.6 Z" fill="#1c1c1c"/>
<path d="M731.3,249.2 L729.6,241.4 L733,241.4 Z" fill="#1c1c1c"/>
<line x1="731.3" y1="249.2" x2="731.3" y2="312.5" stroke="#1c1c1c" stroke-width="0.65"/>
<path d="M731.3,249.2 L733,257 L729.6,257 Z" fill="#1c1c1c"/>
<path d="M731.3,312.5 L729.6,304.7 L733,304.7 Z" fill="#1c1c1c"/>
<text x="726.4" y="239.4" font-size="13" text-anchor="middle" font-weight="normal" font-style="normal" fill="#111" transform="rotate(-90 726.4 239.4)">L<tspan font-size="10.26">1</tspan></text>
<text x="726.6" y="276.8" font-size="13.5" text-anchor="middle" font-weight="normal" font-style="normal" fill="#111" transform="rotate(-90 726.6 276.8)">l</text>
<line x1="749.5" y1="230.8" x2="749.5" y2="355" stroke="#1c1c1c" stroke-width="0.65"/>
<path d="M749.5,230.8 L751.2,238.6 L747.8,238.6 Z" fill="#1c1c1c"/>
<path d="M749.5,355 L747.8,347.2 L751.2,347.2 Z" fill="#1c1c1c"/>
<text x="747.2" y="289.5" font-size="13.5" text-anchor="middle" font-weight="normal" font-style="normal" fill="#111" transform="rotate(-90 747.2 289.5)">t</text>
<line x1="531" y1="269.6" x2="581.7" y2="269.6" stroke="#6e6e6e" stroke-width="1.0"/>
<line x1="531" y1="355.2" x2="581.7" y2="355.2" stroke="#6e6e6e" stroke-width="1.0"/>
<line x1="548.3" y1="276.8" x2="581.7" y2="276.8" stroke="#6e6e6e" stroke-width="1.0"/>
<line x1="548.3" y1="348.1" x2="583" y2="348.1" stroke="#6e6e6e" stroke-width="1.0"/>
<line x1="535.3" y1="269.6" x2="535.3" y2="355.2" stroke="#1c1c1c" stroke-width="0.65"/>
<path d="M535.3,269.6 L537,277.4 L533.6,277.4 Z" fill="#1c1c1c"/>
<path d="M535.3,355.2 L533.6,347.4 L537,347.4 Z" fill="#1c1c1c"/>
<line x1="552.5" y1="276.8" x2="552.5" y2="348.1" stroke="#1c1c1c" stroke-width="0.65"/>
<path d="M552.5,276.8 L554.2,284.6 L550.8,284.6 Z" fill="#1c1c1c"/>
<path d="M552.5,348.1 L550.8,340.3 L554.2,340.3 Z" fill="#1c1c1c"/>
<text x="533" y="311.4" font-size="13.5" text-anchor="middle" font-weight="normal" font-style="normal" fill="#111" transform="rotate(-90 533 311.4)">A</text>
<text x="550.2" y="311.6" font-size="13.5" text-anchor="middle" font-weight="normal" font-style="normal" fill="#111" transform="rotate(-90 550.2 311.6)">G</text>
<line x1="566.4" y1="344.6" x2="588" y2="344.6" stroke="#1c1c1c" stroke-width="0.65"/>
<line x1="566.4" y1="351.6" x2="588" y2="351.6" stroke="#1c1c1c" stroke-width="0.65"/>
<line x1="570" y1="334.1" x2="570" y2="344.6" stroke="#1c1c1c" stroke-width="0.65"/>
<line x1="570" y1="355" x2="570" y2="376.6" stroke="#1c1c1c" stroke-width="0.65"/>
<path d="M570,344.6 L568.3,336.8 L571.7,336.8 Z" fill="#1c1c1c"/>
<path d="M570,355 L571.7,362.8 L568.3,362.8 Z" fill="#1c1c1c"/>
<text x="566" y="371.2" font-size="13.5" text-anchor="middle" font-weight="normal" font-style="normal" fill="#111" transform="rotate(-90 566 371.2)">f</text>
<line x1="585" y1="356.5" x2="585" y2="426.5" stroke="#1c1c1c" stroke-width="0.65"/>
<line x1="709.5" y1="356.5" x2="709.5" y2="426.5" stroke="#1c1c1c" stroke-width="0.65"/>
<line x1="590.5" y1="356.5" x2="590.5" y2="376" stroke="#1c1c1c" stroke-width="0.6" stroke-dasharray="4 2"/>
<line x1="590.5" y1="376" x2="590.5" y2="410.5" stroke="#1c1c1c" stroke-width="0.65"/>
<line x1="600.5" y1="349" x2="600.5" y2="377" stroke="#1c1c1c" stroke-width="0.65"/>
<line x1="605.2" y1="349" x2="605.2" y2="377" stroke="#1c1c1c" stroke-width="0.65"/>
<line x1="603.5" y1="377.5" x2="603.5" y2="394.5" stroke="#1c1c1c" stroke-width="0.65"/>
<line x1="690.6" y1="356.5" x2="690.6" y2="394.5" stroke="#1c1c1c" stroke-width="0.65"/>
<line x1="702.4" y1="356.5" x2="702.4" y2="411" stroke="#1c1c1c" stroke-width="0.65"/>
<line x1="588.5" y1="375.2" x2="600.5" y2="375.2" stroke="#1c1c1c" stroke-width="0.65"/>
<line x1="605.2" y1="375.2" x2="623" y2="375.2" stroke="#1c1c1c" stroke-width="0.65"/>
<path d="M600.5,375.2 L592.7,376.9 L592.7,373.5 Z" fill="#1c1c1c"/>
<path d="M605.2,375.2 L613,373.5 L613,376.9 Z" fill="#1c1c1c"/>
<text x="619.2" y="371.4" font-size="13.5" text-anchor="middle" font-weight="normal" font-style="normal" fill="#111">F</text>
<line x1="627.1" y1="375.2" x2="666.6" y2="375.2" stroke="#1c1c1c" stroke-width="0.65"/>
<path d="M627.1,375.2 L634.9,373.5 L634.9,376.9 Z" fill="#1c1c1c"/>
<path d="M666.6,375.2 L658.8,376.9 L658.8,373.5 Z" fill="#1c1c1c"/>
<text x="646.6" y="371.4" font-size="13.5" text-anchor="middle" font-weight="normal" font-style="normal" fill="#111">O</text>
<line x1="603.5" y1="391.8" x2="627.1" y2="391.8" stroke="#1c1c1c" stroke-width="0.65"/>
<path d="M603.5,391.8 L611.3,390.1 L611.3,393.5 Z" fill="#1c1c1c"/>
<path d="M627.1,391.8 L619.3,393.5 L619.3,390.1 Z" fill="#1c1c1c"/>
<line x1="627.1" y1="391.8" x2="690.6" y2="391.8" stroke="#1c1c1c" stroke-width="0.65"/>
<path d="M627.1,391.8 L634.9,390.1 L634.9,393.5 Z" fill="#1c1c1c"/>
<path d="M690.6,391.8 L682.8,393.5 L682.8,390.1 Z" fill="#1c1c1c"/>
<text x="614.6" y="387.4" font-size="13.5" text-anchor="middle" font-weight="normal" font-style="normal" fill="#111">e</text>
<text x="657.6" y="387.4" font-size="13.5" text-anchor="middle" font-weight="normal" font-style="normal" fill="#111">a</text>
<line x1="590.5" y1="408.3" x2="627.1" y2="408.3" stroke="#1c1c1c" stroke-width="0.65"/>
<path d="M590.5,408.3 L598.3,406.6 L598.3,410 Z" fill="#1c1c1c"/>
<path d="M627.1,408.3 L619.3,410 L619.3,406.6 Z" fill="#1c1c1c"/>
<line x1="627.1" y1="408.3" x2="702.4" y2="408.3" stroke="#1c1c1c" stroke-width="0.65"/>
<path d="M627.1,408.3 L634.9,406.6 L634.9,410 Z" fill="#1c1c1c"/>
<path d="M702.4,408.3 L694.6,410 L694.6,406.6 Z" fill="#1c1c1c"/>
<text x="608.8" y="402.4" font-size="13.5" text-anchor="middle" font-weight="normal" font-style="normal" fill="#111">g</text>
<text x="661.8" y="404.4" font-size="13.5" text-anchor="middle" font-weight="normal" font-style="normal" fill="#111">i</text>
<line x1="584.4" y1="424.5" x2="709.5" y2="424.5" stroke="#1c1c1c" stroke-width="0.65"/>
<path d="M584.4,424.5 L592.2,422.8 L592.2,426.2 Z" fill="#1c1c1c"/>
<path d="M709.5,424.5 L701.7,426.2 L701.7,422.8 Z" fill="#1c1c1c"/>
<text x="646.2" y="421.6" font-size="13.5" text-anchor="middle" font-weight="normal" font-style="normal" fill="#111">E</text>
<g transform="translate(585 270)" fill="none" stroke="#1c1c1c" stroke-width="0.95" stroke-linejoin="round" stroke-linecap="round">
<path d="M5,0 H119.5 L124.5,5 V80.0 L119.5,85.0 H5 L0,80.0 V5 Z" fill="#fff" stroke-width="1.65"/>
<path d="M6,2.3 H118.5 L122.2,6 V79.0 L118.5,82.7 H6 L2.3,79.0 V6 Z" stroke="#555" stroke-width="0.6"/>
<path d="M29,2.4 H96 M29,82.6 H96" stroke="#8a8a8a" stroke-width="1.4"/>
<path d="M10.5,6.2 H28.8 M96.1,6.2 H112"/>
<path d="M28.8,1.2 V21 M96.1,1.2 V6.2"/>
<path d="M10.5,7.5 V16 Q10.5,19 7.5,19.5 Q5.2,19.8 5.2,22 V26.5 Q5.2,28.8 7.8,28.8 H21.5"/>
<path d="M56.1,21 V14.5 Q56.1,11 59.5,11 H63 Q65.3,11 65.8,8.6 Q66.3,6.2 68.5,6.2 H71.7 Q73.2,6.2 73.7,8.5 Q75,12.8 77.8,12.8 Q80.6,12.8 82,8.5 Q82.6,6.2 84.2,6.2 H112 L114.2,10.5 V17 Q114.2,20 117,20.2 Q118.6,20.4 118.6,22.5 V28.6 Q118.6,31.2 116,31.2 H95.3"/>
<circle cx="6.2" cy="6.6" r="3.3" fill="#fff" stroke-width="0.75"/>
<circle cx="6.2" cy="6.6" r="1.8" fill="#fff" stroke-width="0.45"/>
<path d="M6.2,3.7 V9.5 M3.3,6.6 H9.1" stroke-width="0.4"/>
<circle cx="117.9" cy="6.6" r="3.3" fill="#fff" stroke-width="0.75"/>
<circle cx="117.9" cy="6.6" r="1.8" fill="#fff" stroke-width="0.45"/>
<path d="M117.9,3.7 V9.5 M115,6.6 H120.8" stroke-width="0.4"/>
<path d="M10.5,78.8 H28.8 M96.1,78.8 H112"/>
<path d="M28.8,83.8 V64 M96.1,83.8 V78.8"/>
<path d="M10.5,77.5 V69 Q10.5,66 7.5,65.5 Q5.2,65.2 5.2,63 V58.5 Q5.2,56.2 7.8,56.2 H21.5"/>
<path d="M56.1,64 V70.5 Q56.1,74 59.5,74 H63 Q65.3,74 65.8,76.4 Q66.3,78.8 68.5,78.8 H112 L114.2,74.5 V68 Q114.2,65 117,64.8 Q118.6,64.6 118.6,62.5 V56.4 Q118.6,53.8 116,53.8 H95.3"/>
<circle cx="6.2" cy="78.4" r="3.3" fill="#fff" stroke-width="0.75"/>
<circle cx="6.2" cy="78.4" r="1.8" fill="#fff" stroke-width="0.45"/>
<path d="M6.2,75.5 V81.3 M3.3,78.4 H9.1" stroke-width="0.4"/>
<circle cx="117.9" cy="78.4" r="3.3" fill="#fff" stroke-width="0.75"/>
<circle cx="117.9" cy="78.4" r="1.8" fill="#fff" stroke-width="0.45"/>
<path d="M117.9,75.5 V81.3 M115,78.4 H120.8" stroke-width="0.4"/>
<path d="M28.8,21 H55.8 L62.9,28.3 V56.7 L55.8,64 H28.8 L21.5,56.7 V28.3 Z" fill="#fff"/>
<rect x="66.9" y="29" width="28.4" height="27" rx="1.6" ry="1.6"/>
<path d="M62.9,31.2 H66.9 M62.9,53.8 H66.9" stroke-width="0.55"/>
<circle cx="42.1" cy="42.5" r="15.7" fill="#fff"/>
<circle cx="42.1" cy="42.5" r="12.1"/>
<circle cx="42.1" cy="42.5" r="7.6" stroke-width="0.7"/>
<path d="M42.1,32.5 A10.0,10.0 0 0 1 52.1,42.5" stroke-width="3.3" stroke-linecap="butt"/>
<path d="M32.1,42.5 A10.0,10.0 0 0 0 42.1,52.5" stroke-width="3.3" stroke-linecap="butt"/>
<path d="M40.5,34.8 V33.1 H43.7 V34.8" stroke-width="0.6"/>
</g>
<line x1="574" y1="312.5" x2="734" y2="312.5" stroke="#1c1c1c" stroke-width="0.6" stroke-dasharray="9 2 1.5 2"/>
<line x1="627.1" y1="248" x2="627.1" y2="411" stroke="#1c1c1c" stroke-width="0.6" stroke-dasharray="9 2 1.5 2"/>
<line x1="666.6" y1="226.5" x2="666.6" y2="379" stroke="#1c1c1c" stroke-width="0.6" stroke-dasharray="9 2 1.5 2"/>
<line x1="603" y1="264" x2="603" y2="284" stroke="#1c1c1c" stroke-width="0.5" stroke-dasharray="9 2 1.5 2"/>
<line x1="603" y1="342" x2="603" y2="360" stroke="#1c1c1c" stroke-width="0.5" stroke-dasharray="9 2 1.5 2"/>
<line x1="690.6" y1="264" x2="690.6" y2="284" stroke="#1c1c1c" stroke-width="0.5" stroke-dasharray="9 2 1.5 2"/>
<line x1="690.6" y1="342" x2="690.6" y2="360" stroke="#1c1c1c" stroke-width="0.5" stroke-dasharray="9 2 1.5 2"/>
<g stroke="#1c1c1c" stroke-width="1.3" stroke-linejoin="round">
<rect x="647.3" y="261.9" width="38.6" height="7.8" fill="url(#bh)"/>
<rect x="652.5" y="250.7" width="28.2" height="11.2" fill="url(#bh)"/>
<path d="M652.5,254.1 H680.7" stroke-width="0.6"/>
<path d="M661,250.7 V248.3 H659 V232.7 H661.2 V230.4 H671.6 V248.3 H672.2 V250.7 Z" fill="url(#sh)"/>
<path d="M661.2,232.7 V245.7 H659.2" fill="none" stroke-width="0.6"/>
</g>
<line x1="666.6" y1="226.5" x2="666.6" y2="272" stroke="#1c1c1c" stroke-width="0.6" stroke-dasharray="9 2 1.5 2"/>
<text x="762.8" y="318.6" font-size="19.7" font-weight="bold" fill="#696969">T<tspan fill="#111">A</tspan>..BV</text>
<line x1="854.4" y1="264" x2="854.4" y2="282" stroke="#1c1c1c" stroke-width="0.6" stroke-dasharray="4 2"/>
<line x1="900" y1="264" x2="900" y2="282" stroke="#1c1c1c" stroke-width="0.6" stroke-dasharray="4 2"/>
<line x1="854.4" y1="343.5" x2="854.4" y2="378" stroke="#1c1c1c" stroke-width="0.6" stroke-dasharray="4 2"/>
<line x1="900" y1="343.5" x2="900" y2="378" stroke="#1c1c1c" stroke-width="0.6" stroke-dasharray="4 2"/>
<line x1="848" y1="357" x2="848" y2="395" stroke="#1c1c1c" stroke-width="0.65"/>
<line x1="906.1" y1="357" x2="906.1" y2="395" stroke="#1c1c1c" stroke-width="0.65"/>
<line x1="845.8" y1="357.5" x2="845.8" y2="411.5" stroke="#777" stroke-width="1.4"/>
<line x1="908.3" y1="322" x2="908.3" y2="411.5" stroke="#1c1c1c" stroke-width="0.65"/>
<g transform="translate(877 312.8)" fill="none" stroke="#1c1c1c" stroke-width="0.7" stroke-linejoin="round">
<path d="M-22.4,-31.2 L-22.4,-29.8 L-23.9,-29.5 L-23.9,-23 L-22.2,-22.6 L-22.2,-21 L-26.8,-20.6 L-27.7,-19 L-27.7,-12 L-31.1,-11.5 L-31.1,9.9 L-27.7,10.3 L-27.7,17.5 L-26.8,19.5 L-22.2,19.9 L-22.2,21.6 L-23.9,22.4 L-23.9,30 L-22.4,30.3 L-22.4,31.9" stroke-width="1.5"/>
<rect x="-29.9" y="-10.6" width="3.4" height="20" stroke-width="0.55"/>
<path d="M-26.4,-19 V19" stroke-width="0.5"/>
<path d="M22.4,-31.2 L22.4,-29.8 L23.9,-29.5 L23.9,-23 L22.2,-22.6 L22.2,-21 L26.8,-20.6 L27.7,-19 L27.7,-12 L31.1,-11.5 L31.1,9.9 L27.7,10.3 L27.7,17.5 L26.8,19.5 L22.2,19.9 L22.2,21.6 L23.9,22.4 L23.9,30 L22.4,30.3 L22.4,31.9" stroke-width="1.5"/>
<rect x="26.5" y="-10.6" width="3.4" height="20" stroke-width="0.55"/>
<path d="M26.4,-19 V19" stroke-width="0.5"/>
<rect x="-21.0" y="-30.9" width="16.6" height="62.4" rx="3.2" ry="3.2" stroke-width="0.85"/>
<rect x="2.9" y="-30.9" width="18.0" height="62.4" rx="3.2" ry="3.2" stroke-width="0.85"/>
<path d="M-0.4,-42.6 V43" stroke-width="0.6"/>
<rect x="-29.05" y="-42.6" width="58.1" height="11.4" stroke-width="1.6" fill="none"/>
<path d="M-28.05,-40.8 H28.05" stroke-width="0.5"/>
<path d="M28.25,-37.4 H20.85 L19.05,-35.6 V-31.2" stroke-width="0.55"/>
<path d="M25.85,-42.6 V-31.2 M21.05,-42.6 V-31.2" stroke-width="0.4" stroke-dasharray="2.2 1.2"/>
<path d="M-28.25,-37.4 H-20.85 L-19.05,-35.6 V-31.2" stroke-width="0.55"/>
<path d="M-25.85,-42.6 V-31.2 M-21.05,-42.6 V-31.2" stroke-width="0.4" stroke-dasharray="2.2 1.2"/>
<rect x="-29.05" y="32.0" width="58.1" height="11" stroke-width="1.6" fill="none"/>
<path d="M-28.05,41.2 H28.05" stroke-width="0.5"/>
<path d="M28.25,37.8 H20.85 L19.05,36 V32" stroke-width="0.55"/>
<path d="M25.85,32 V43 M21.05,32 V43" stroke-width="0.4" stroke-dasharray="2.2 1.2"/>
<path d="M-28.25,37.8 H-20.85 L-19.05,36 V32" stroke-width="0.55"/>
<path d="M-25.85,32 V43 M-21.05,32 V43" stroke-width="0.4" stroke-dasharray="2.2 1.2"/>
</g>
<line x1="840.5" y1="312.8" x2="913.5" y2="312.8" stroke="#1c1c1c" stroke-width="0.6" stroke-dasharray="9 2 1.5 2"/>
<g stroke="#1c1c1c" stroke-width="1.3" stroke-linejoin="round">
<rect x="856.9" y="261.8" width="39.5" height="8.6" fill="url(#bh)"/>
<rect x="862.5" y="251.3" width="28.3" height="10.5" fill="url(#bh)"/>
<path d="M862.5,254.6 H890.8" stroke-width="0.6"/>
<path d="M869.6,251.2 L870.6,249.6 V230.5 H881.5 V249.6 L882.6,251.2 Z" fill="url(#sh)"/>
<rect x="874.4" y="232.9" width="4.3" height="14.7" rx="2.1" ry="2.1" fill="#c4c4c4" stroke-width="0.8"/>
</g>
<line x1="877" y1="225" x2="877" y2="360" stroke="#1c1c1c" stroke-width="0.6" stroke-dasharray="9 2 1.5 2"/>
<line x1="832" y1="349.4" x2="847.5" y2="349.4" stroke="#1c1c1c" stroke-width="0.65"/>
<line x1="832" y1="355.6" x2="847.5" y2="355.6" stroke="#1c1c1c" stroke-width="0.65"/>
<line x1="835" y1="338.9" x2="835" y2="349.4" stroke="#1c1c1c" stroke-width="0.65"/>
<line x1="835" y1="355.6" x2="835" y2="382.1" stroke="#1c1c1c" stroke-width="0.65"/>
<path d="M835,349.4 L833.3,341.6 L836.7,341.6 Z" fill="#1c1c1c"/>
<path d="M835,355.6 L836.7,363.4 L833.3,363.4 Z" fill="#1c1c1c"/>
<text x="832.4" y="378" font-size="13.5" text-anchor="middle" font-weight="normal" font-style="normal" fill="#111" transform="rotate(-90 832.4 378)">Z</text>
<line x1="854.4" y1="376.3" x2="900" y2="376.3" stroke="#1c1c1c" stroke-width="0.65"/>
<path d="M854.4,376.3 L862.2,374.6 L862.2,378 Z" fill="#1c1c1c"/>
<path d="M900,376.3 L892.2,378 L892.2,374.6 Z" fill="#1c1c1c"/>
<text x="878.6" y="373.4" font-size="13.5" text-anchor="middle" font-weight="normal" font-style="normal" fill="#111">b</text>
<line x1="848" y1="392.8" x2="906.1" y2="392.8" stroke="#1c1c1c" stroke-width="0.65"/>
<path d="M848,392.8 L855.8,391.1 L855.8,394.5 Z" fill="#1c1c1c"/>
<path d="M906.1,392.8 L898.3,394.5 L898.3,391.1 Z" fill="#1c1c1c"/>
<text x="878.2" y="389.6" font-size="13.5" text-anchor="middle" font-weight="normal" font-style="normal" fill="#111">B</text>
<line x1="845.8" y1="409.1" x2="908.3" y2="409.1" stroke="#1c1c1c" stroke-width="0.65"/>
<path d="M845.8,409.1 L853.6,407.4 L853.6,410.8 Z" fill="#1c1c1c"/>
<path d="M908.3,409.1 L900.5,410.8 L900.5,407.4 Z" fill="#1c1c1c"/>
<text x="878.8" y="405.9" font-size="13.5" text-anchor="middle" font-weight="normal" font-style="normal" fill="#111">C<tspan font-size="10.26">2</tspan></text>
<line x1="628.4" y1="459" x2="628.4" y2="481" stroke="#1c1c1c" stroke-width="0.65"/>
<line x1="704.6" y1="459" x2="704.6" y2="481" stroke="#1c1c1c" stroke-width="0.65"/>
<line x1="628.4" y1="463.7" x2="704.6" y2="463.7" stroke="#1c1c1c" stroke-width="0.65"/>
<path d="M628.4,463.7 L636.2,462 L636.2,465.4 Z" fill="#1c1c1c"/>
<path d="M704.6,463.7 L696.8,465.4 L696.8,462 Z" fill="#1c1c1c"/>
<text x="665.8" y="461" font-size="13.5" text-anchor="middle" font-weight="normal" font-style="normal" fill="#111">Y</text>
<g transform="translate(584.1 508.1) scale(0.9896 0.9847)" fill="none" stroke="#1c1c1c" stroke-width="0.95" stroke-linejoin="round" stroke-linecap="round">
<path d="M5,0 H119.5 L124.5,5 V80.0 L119.5,85.0 H5 L0,80.0 V5 Z" fill="#fff" stroke-width="1.65"/>
<path d="M6,2.3 H118.5 L122.2,6 V79.0 L118.5,82.7 H6 L2.3,79.0 V6 Z" stroke="#555" stroke-width="0.6"/>
<path d="M29,2.4 H96 M29,82.6 H96" stroke="#8a8a8a" stroke-width="1.4"/>
<path d="M10.5,6.2 H28.8 M96.1,6.2 H112"/>
<path d="M28.8,1.2 V21 M96.1,1.2 V6.2"/>
<path d="M10.5,7.5 V16 Q10.5,19 7.5,19.5 Q5.2,19.8 5.2,22 V26.5 Q5.2,28.8 7.8,28.8 H21.5"/>
<path d="M56.1,21 V14.5 Q56.1,11 59.5,11 H63 Q65.3,11 65.8,8.6 Q66.3,6.2 68.5,6.2 H71.7 Q73.2,6.2 73.7,8.5 Q75,12.8 77.8,12.8 Q80.6,12.8 82,8.5 Q82.6,6.2 84.2,6.2 H112 L114.2,10.5 V17 Q114.2,20 117,20.2 Q118.6,20.4 118.6,22.5 V28.6 Q118.6,31.2 116,31.2 H95.3"/>
<circle cx="6.2" cy="6.6" r="3.3" fill="#fff" stroke-width="0.75"/>
<circle cx="6.2" cy="6.6" r="1.8" fill="#fff" stroke-width="0.45"/>
<path d="M6.2,3.7 V9.5 M3.3,6.6 H9.1" stroke-width="0.4"/>
<circle cx="117.9" cy="6.6" r="3.3" fill="#fff" stroke-width="0.75"/>
<circle cx="117.9" cy="6.6" r="1.8" fill="#fff" stroke-width="0.45"/>
<path d="M117.9,3.7 V9.5 M115,6.6 H120.8" stroke-width="0.4"/>
<path d="M10.5,78.8 H28.8 M96.1,78.8 H112"/>
<path d="M28.8,83.8 V64 M96.1,83.8 V78.8"/>
<path d="M10.5,77.5 V69 Q10.5,66 7.5,65.5 Q5.2,65.2 5.2,63 V58.5 Q5.2,56.2 7.8,56.2 H21.5"/>
<path d="M56.1,64 V70.5 Q56.1,74 59.5,74 H63 Q65.3,74 65.8,76.4 Q66.3,78.8 68.5,78.8 H112 L114.2,74.5 V68 Q114.2,65 117,64.8 Q118.6,64.6 118.6,62.5 V56.4 Q118.6,53.8 116,53.8 H95.3"/>
<circle cx="6.2" cy="78.4" r="3.3" fill="#fff" stroke-width="0.75"/>
<circle cx="6.2" cy="78.4" r="1.8" fill="#fff" stroke-width="0.45"/>
<path d="M6.2,75.5 V81.3 M3.3,78.4 H9.1" stroke-width="0.4"/>
<circle cx="117.9" cy="78.4" r="3.3" fill="#fff" stroke-width="0.75"/>
<circle cx="117.9" cy="78.4" r="1.8" fill="#fff" stroke-width="0.45"/>
<path d="M117.9,75.5 V81.3 M115,78.4 H120.8" stroke-width="0.4"/>
<path d="M28.8,21 H55.8 L62.9,28.3 V56.7 L55.8,64 H28.8 L21.5,56.7 V28.3 Z" fill="#fff"/>
<rect x="66.9" y="29" width="28.4" height="27" rx="1.6" ry="1.6"/>
<path d="M62.9,31.2 H66.9 M62.9,53.8 H66.9" stroke-width="0.55"/>
<circle cx="42.1" cy="42.5" r="15.7" fill="#fff"/>
<circle cx="42.1" cy="42.5" r="12.1"/>
<circle cx="42.1" cy="42.5" r="7.6" stroke-width="0.7"/>
<path d="M42.1,32.5 A10.0,10.0 0 0 1 52.1,42.5" stroke-width="3.3" stroke-linecap="butt"/>
<path d="M32.1,42.5 A10.0,10.0 0 0 0 42.1,52.5" stroke-width="3.3" stroke-linecap="butt"/>
<path d="M40.5,34.8 V33.1 H43.7 V34.8" stroke-width="0.6"/>
</g>
<line x1="576" y1="549.95" x2="736" y2="549.95" stroke="#1c1c1c" stroke-width="0.6" stroke-dasharray="9 2 1.5 2"/>
<line x1="625.76" y1="485" x2="625.76" y2="596" stroke="#1c1c1c" stroke-width="0.6" stroke-dasharray="9 2 1.5 2"/>
<line x1="666.5" y1="479" x2="666.5" y2="560" stroke="#1c1c1c" stroke-width="0.6" stroke-dasharray="9 2 1.5 2"/>
<line x1="602.5" y1="501" x2="602.5" y2="520" stroke="#1c1c1c" stroke-width="0.5" stroke-dasharray="9 2 1.5 2"/>
<line x1="602.5" y1="578" x2="602.5" y2="599.5" stroke="#1c1c1c" stroke-width="0.5" stroke-dasharray="9 2 1.5 2"/>
<line x1="689.2" y1="501" x2="689.2" y2="520" stroke="#1c1c1c" stroke-width="0.5" stroke-dasharray="9 2 1.5 2"/>
<line x1="689.2" y1="578" x2="689.2" y2="599.5" stroke="#1c1c1c" stroke-width="0.5" stroke-dasharray="9 2 1.5 2"/>
<g stroke="#1c1c1c" stroke-width="1.3" stroke-linejoin="round">
<path d="M648.1,507.9 V500.1 L637.3,488.7 H695.7 L684.9,500.1 V507.9 Z" fill="url(#bh)"/>
<path d="M648.1,500.1 H684.9" stroke-width="0.6"/>
<path d="M650.5,500.1 L646,488.7 M682.5,500.1 L687,488.7" stroke-width="0.5"/>
<path d="M664.5,488.7 V499.1 M668.5,488.7 V499.1" stroke-width="0.5"/>
<rect x="628.4" y="482.9" width="76.2" height="5.8" fill="url(#ph)"/>
</g>
<line x1="666.5" y1="479" x2="666.5" y2="512" stroke="#1c1c1c" stroke-width="0.6" stroke-dasharray="9 2 1.5 2"/>
<line x1="707" y1="482.4" x2="753" y2="482.4" stroke="#1c1c1c" stroke-width="0.65"/>
<line x1="711.5" y1="592.8" x2="752.5" y2="592.8" stroke="#1c1c1c" stroke-width="0.65"/>
<line x1="732.5" y1="482.4" x2="732.5" y2="549.95" stroke="#1c1c1c" stroke-width="0.65"/>
<path d="M732.5,482.4 L734.2,490.2 L730.8,490.2 Z" fill="#1c1c1c"/>
<path d="M732.5,549.95 L730.8,542.15 L734.2,542.15 Z" fill="#1c1c1c"/>
<line x1="749.4" y1="482.4" x2="749.4" y2="592.8" stroke="#1c1c1c" stroke-width="0.65"/>
<path d="M749.4,482.4 L751.1,490.2 L747.7,490.2 Z" fill="#1c1c1c"/>
<path d="M749.4,592.8 L747.7,585 L751.1,585 Z" fill="#1c1c1c"/>
<text x="727.6" y="512" font-size="13.5" text-anchor="middle" font-weight="normal" font-style="normal" fill="#111" transform="rotate(-90 727.6 512)">p</text>
<text x="743.6" y="541.5" font-size="13.5" text-anchor="middle" font-weight="normal" font-style="normal" fill="#111" transform="rotate(-90 743.6 541.5)">q</text>
<text x="761.2" y="552.3" font-size="19.7" font-weight="bold" fill="#696969">T<tspan fill="#111">C</tspan>..BV</text>
<path d="M854.85,549.75 H912.65 V573.25 L907.65,578.25 H859.85 L854.85,573.25 Z" fill="#17a7e6" stroke="#1c1c1c" stroke-width="0.9" stroke-linejoin="round"/>
<path d="M847.25,549.75 A36.5,36.5 0 0 1 920.25,549.75 H907.55 A23.8,23.8 0 0 0 859.95,549.75 Z" fill="#a2e0f7" stroke="#1c1c1c" stroke-width="0.9"/>
<circle cx="883.75" cy="549.75" r="23.8" fill="#fff" stroke="#1c1c1c" stroke-width="0.9"/>
<circle cx="862.75" cy="528.75" r="3.1" fill="#fff" stroke="#1c1c1c" stroke-width="0.8"/>
<circle cx="904.75" cy="528.75" r="3.1" fill="#fff" stroke="#1c1c1c" stroke-width="0.8"/>
<circle cx="862.75" cy="570.45" r="3.1" fill="#fff" stroke="#1c1c1c" stroke-width="0.8"/>
<circle cx="904.75" cy="570.45" r="3.1" fill="#fff" stroke="#1c1c1c" stroke-width="0.8"/>
<line x1="837.25" y1="549.75" x2="927.75" y2="549.75" stroke="#1c1c1c" stroke-width="0.6" stroke-dasharray="9 2 1.5 2"/>
<line x1="883.75" y1="507.25" x2="883.75" y2="586.25" stroke="#1c1c1c" stroke-width="0.6" stroke-dasharray="9 2 1.5 2"/>
<line x1="847.05" y1="497.75" x2="847.05" y2="547.75" stroke="#1c1c1c" stroke-width="0.65"/>
<line x1="920.65" y1="497.75" x2="920.65" y2="547.75" stroke="#1c1c1c" stroke-width="0.65"/>
<line x1="847.05" y1="502.25" x2="920.65" y2="502.25" stroke="#1c1c1c" stroke-width="0.65"/>
<path d="M847.05,502.25 L854.85,500.55 L854.85,503.95 Z" fill="#1c1c1c"/>
<path d="M920.65,502.25 L912.85,503.95 L912.85,500.55 Z" fill="#1c1c1c"/>
<text x="882.55" y="498.75" font-size="13.5" text-anchor="middle" font-weight="normal" font-style="normal" fill="#111">øY</text>
<line x1="854.85" y1="579.25" x2="854.85" y2="608.25" stroke="#1c1c1c" stroke-width="0.65"/>
<line x1="912.65" y1="579.25" x2="912.65" y2="608.25" stroke="#1c1c1c" stroke-width="0.65"/>
<line x1="854.85" y1="604.85" x2="912.65" y2="604.85" stroke="#1c1c1c" stroke-width="0.65"/>
<path d="M854.85,604.85 L862.65,603.15 L862.65,606.55 Z" fill="#1c1c1c"/>
<path d="M912.65,604.85 L904.85,606.55 L904.85,603.15 Z" fill="#1c1c1c"/>
<rect x="869.25" y="595.75" width="7.6" height="7.6" fill="none" stroke="#1c1c1c" stroke-width="0.8"/>
<text x="880.55" y="603.35" font-size="13" text-anchor="start" font-weight="normal" font-style="normal" fill="#111">120*</text>
<line x1="883.75" y1="549.75" x2="831.75" y2="571.75" stroke="#1c1c1c" stroke-width="0.65"/>
<line x1="831.75" y1="571.75" x2="831.75" y2="600.05" stroke="#1c1c1c" stroke-width="0.65"/>
<path d="M849.15,564.35 L842.86,568.74 L841.62,565.79 Z" fill="#1c1c1c"/>
<path d="M848.95,559.73 A36.2,36.2 0 0 0 878.09,585.5" fill="none" stroke="#1c1c1c" stroke-width="0.6"/>
<text x="829.35" y="586.75" font-size="13.5" text-anchor="middle" font-weight="normal" font-style="normal" fill="#111" transform="rotate(-90 829.35 586.75)">R 73</text>
<text x="861.25" y="624.3" font-size="9.8" text-anchor="middle" font-weight="normal" font-style="normal" fill="#111">* Solo per / <tspan font-style="italic">Only for</tspan> / Nur für</text>
<text x="860.7" y="637.5" font-size="13" text-anchor="middle" font-weight="bold" font-style="normal" fill="#111">90 B14</text>
<line x1="628.4" y1="631" x2="628.4" y2="654" stroke="#1c1c1c" stroke-width="0.65"/>
<line x1="704.6" y1="631" x2="704.6" y2="654" stroke="#1c1c1c" stroke-width="0.65"/>
<line x1="628.4" y1="635.5" x2="704.6" y2="635.5" stroke="#1c1c1c" stroke-width="0.65"/>
<path d="M628.4,635.5 L636.2,633.8 L636.2,637.2 Z" fill="#1c1c1c"/>
<path d="M704.6,635.5 L696.8,637.2 L696.8,633.8 Z" fill="#1c1c1c"/>
<text x="665.8" y="632.8" font-size="13.5" text-anchor="middle" font-weight="normal" font-style="normal" fill="#111">Y</text>
<g transform="translate(584.6 708.2) scale(0.9871 0.9882)" fill="none" stroke="#1c1c1c" stroke-width="0.95" stroke-linejoin="round" stroke-linecap="round">
<path d="M5,0 H119.5 L124.5,5 V80.0 L119.5,85.0 H5 L0,80.0 V5 Z" fill="#fff" stroke-width="1.65"/>
<path d="M6,2.3 H118.5 L122.2,6 V79.0 L118.5,82.7 H6 L2.3,79.0 V6 Z" stroke="#555" stroke-width="0.6"/>
<path d="M29,2.4 H96 M29,82.6 H96" stroke="#8a8a8a" stroke-width="1.4"/>
<path d="M10.5,6.2 H28.8 M96.1,6.2 H112"/>
<path d="M28.8,1.2 V21 M96.1,1.2 V6.2"/>
<path d="M10.5,7.5 V16 Q10.5,19 7.5,19.5 Q5.2,19.8 5.2,22 V26.5 Q5.2,28.8 7.8,28.8 H21.5"/>
<path d="M56.1,21 V14.5 Q56.1,11 59.5,11 H63 Q65.3,11 65.8,8.6 Q66.3,6.2 68.5,6.2 H71.7 Q73.2,6.2 73.7,8.5 Q75,12.8 77.8,12.8 Q80.6,12.8 82,8.5 Q82.6,6.2 84.2,6.2 H112 L114.2,10.5 V17 Q114.2,20 117,20.2 Q118.6,20.4 118.6,22.5 V28.6 Q118.6,31.2 116,31.2 H95.3"/>
<circle cx="6.2" cy="6.6" r="3.3" fill="#fff" stroke-width="0.75"/>
<circle cx="6.2" cy="6.6" r="1.8" fill="#fff" stroke-width="0.45"/>
<path d="M6.2,3.7 V9.5 M3.3,6.6 H9.1" stroke-width="0.4"/>
<circle cx="117.9" cy="6.6" r="3.3" fill="#fff" stroke-width="0.75"/>
<circle cx="117.9" cy="6.6" r="1.8" fill="#fff" stroke-width="0.45"/>
<path d="M117.9,3.7 V9.5 M115,6.6 H120.8" stroke-width="0.4"/>
<path d="M10.5,78.8 H28.8 M96.1,78.8 H112"/>
<path d="M28.8,83.8 V64 M96.1,83.8 V78.8"/>
<path d="M10.5,77.5 V69 Q10.5,66 7.5,65.5 Q5.2,65.2 5.2,63 V58.5 Q5.2,56.2 7.8,56.2 H21.5"/>
<path d="M56.1,64 V70.5 Q56.1,74 59.5,74 H63 Q65.3,74 65.8,76.4 Q66.3,78.8 68.5,78.8 H112 L114.2,74.5 V68 Q114.2,65 117,64.8 Q118.6,64.6 118.6,62.5 V56.4 Q118.6,53.8 116,53.8 H95.3"/>
<circle cx="6.2" cy="78.4" r="3.3" fill="#fff" stroke-width="0.75"/>
<circle cx="6.2" cy="78.4" r="1.8" fill="#fff" stroke-width="0.45"/>
<path d="M6.2,75.5 V81.3 M3.3,78.4 H9.1" stroke-width="0.4"/>
<circle cx="117.9" cy="78.4" r="3.3" fill="#fff" stroke-width="0.75"/>
<circle cx="117.9" cy="78.4" r="1.8" fill="#fff" stroke-width="0.45"/>
<path d="M117.9,75.5 V81.3 M115,78.4 H120.8" stroke-width="0.4"/>
<path d="M28.8,21 H55.8 L62.9,28.3 V56.7 L55.8,64 H28.8 L21.5,56.7 V28.3 Z" fill="#fff"/>
<rect x="66.9" y="29" width="28.4" height="27" rx="1.6" ry="1.6"/>
<path d="M62.9,31.2 H66.9 M62.9,53.8 H66.9" stroke-width="0.55"/>
<circle cx="42.1" cy="42.5" r="15.7" fill="#fff"/>
<circle cx="42.1" cy="42.5" r="12.1"/>
<circle cx="42.1" cy="42.5" r="7.6" stroke-width="0.7"/>
<path d="M42.1,32.5 A10.0,10.0 0 0 1 52.1,42.5" stroke-width="3.3" stroke-linecap="butt"/>
<path d="M32.1,42.5 A10.0,10.0 0 0 0 42.1,52.5" stroke-width="3.3" stroke-linecap="butt"/>
<path d="M40.5,34.8 V33.1 H43.7 V34.8" stroke-width="0.6"/>
</g>
<line x1="576" y1="750.2" x2="736" y2="750.2" stroke="#1c1c1c" stroke-width="0.6" stroke-dasharray="9 2 1.5 2"/>
<line x1="626.16" y1="686" x2="626.16" y2="797" stroke="#1c1c1c" stroke-width="0.6" stroke-dasharray="9 2 1.5 2"/>
<line x1="666.5" y1="650" x2="666.5" y2="762" stroke="#1c1c1c" stroke-width="0.6" stroke-dasharray="9 2 1.5 2"/>
<line x1="602.5" y1="702" x2="602.5" y2="721" stroke="#1c1c1c" stroke-width="0.5" stroke-dasharray="9 2 1.5 2"/>
<line x1="602.5" y1="779" x2="602.5" y2="800.5" stroke="#1c1c1c" stroke-width="0.5" stroke-dasharray="9 2 1.5 2"/>
<line x1="689.2" y1="702" x2="689.2" y2="721" stroke="#1c1c1c" stroke-width="0.5" stroke-dasharray="9 2 1.5 2"/>
<line x1="689.2" y1="779" x2="689.2" y2="800.5" stroke="#1c1c1c" stroke-width="0.5" stroke-dasharray="9 2 1.5 2"/>
<g stroke="#1c1c1c" stroke-width="1.3" stroke-linejoin="round">
<path d="M647.9,708 V690.8 L637.9,661.8 H695.1 L685.1,690.8 V708 Z" fill="url(#bh)"/>
<path d="M647.9,698 H685.1" stroke-width="0.6"/>
<path d="M646.9,690.8 L644.5,661.8 M686.1,690.8 L688.5,661.8" stroke-width="0.5"/>
<rect x="628.4" y="656" width="76.2" height="5.8" fill="url(#ph)"/>
</g>
<line x1="666.5" y1="650" x2="666.5" y2="714" stroke="#1c1c1c" stroke-width="0.6" stroke-dasharray="9 2 1.5 2"/>
<line x1="707" y1="654.5" x2="753" y2="654.5" stroke="#1c1c1c" stroke-width="0.65"/>
<line x1="711.5" y1="793.2" x2="752.5" y2="793.2" stroke="#1c1c1c" stroke-width="0.65"/>
<line x1="732.5" y1="654.5" x2="732.5" y2="750.2" stroke="#1c1c1c" stroke-width="0.65"/>
<path d="M732.5,654.5 L734.2,662.3 L730.8,662.3 Z" fill="#1c1c1c"/>
<path d="M732.5,750.2 L730.8,742.4 L734.2,742.4 Z" fill="#1c1c1c"/>
<line x1="749.5" y1="654.5" x2="749.5" y2="793.2" stroke="#1c1c1c" stroke-width="0.65"/>
<path d="M749.5,654.5 L751.2,662.3 L747.8,662.3 Z" fill="#1c1c1c"/>
<path d="M749.5,793.2 L747.8,785.4 L751.2,785.4 Z" fill="#1c1c1c"/>
<text x="727.6" y="702" font-size="13.5" text-anchor="middle" font-weight="normal" font-style="normal" fill="#111" transform="rotate(-90 727.6 702)">p</text>
<text x="744" y="725.6" font-size="13.5" text-anchor="middle" font-weight="normal" font-style="normal" fill="#111" transform="rotate(-90 744 725.6)">q</text>
<text x="760.4" y="754" font-size="19.7" font-weight="bold" fill="#696969">T<tspan fill="#111">F</tspan>..BV</text>
<text x="339.3" y="873.5" font-size="13" text-anchor="middle" font-weight="bold" font-style="normal" fill="#111">Albero uscita cavo</text>
<text x="339.5" y="887.5" font-size="13" text-anchor="middle" font-weight="bold" font-style="italic" fill="#111">Hollow output shaft</text>
<text x="339.2" y="901.5" font-size="13" text-anchor="middle" font-weight="bold" font-style="normal" fill="#111">Abtriebshohlwelle</text>
<text x="718" y="874.3" font-size="13" text-anchor="middle" font-weight="bold" font-style="normal" fill="#111">Albero entrata</text>
<text x="718" y="888.6" font-size="13" text-anchor="middle" font-weight="bold" font-style="italic" fill="#111">Input shaft</text>
<text x="718" y="901.8" font-size="13" text-anchor="middle" font-weight="bold" font-style="normal" fill="#111">Antriebswelle</text>
<path d="M209.6,940 H246 V936.4 H318.4 V940 H362 V998.4 H318.4 V1001.6 H246 V998.4 H209.6 Z" fill="#dadada" stroke="none"/>
<rect x="209.6" y="949.6" width="152.4" height="38.6" fill="#fff"/>
<path d="M209.6,940 H246 V936.4 H318.4 V940 H362 M209.6,998.4 H246 V1001.6 H318.4 V998.4 H362" fill="none" stroke="#1c1c1c" stroke-width="1.7" stroke-linejoin="miter"/>
<path d="M209.6,939.2 V999.2 M362,939.2 V999.2" stroke="#1c1c1c" stroke-width="1.0"/>
<path d="M209.6,949.6 H362 M209.6,988.2 H362" stroke="#1c1c1c" stroke-width="1.3"/>
<rect x="218" y="946.3" width="2.1" height="44.7" rx="1" fill="#fff" stroke="#1c1c1c" stroke-width="0.6"/>
<rect x="351.7" y="946.3" width="2.1" height="44.7" rx="1" fill="#fff" stroke="#1c1c1c" stroke-width="0.6"/>
<line x1="197.6" y1="968.8" x2="370" y2="968.8" stroke="#1c1c1c" stroke-width="0.6" stroke-dasharray="9 2 1.5 2"/>
<line x1="188" y1="949.6" x2="209" y2="949.6" stroke="#1c1c1c" stroke-width="0.65"/>
<line x1="188" y1="988.2" x2="209" y2="988.2" stroke="#1c1c1c" stroke-width="0.65"/>
<line x1="192.3" y1="949.6" x2="192.3" y2="988.2" stroke="#1c1c1c" stroke-width="0.65"/>
<path d="M192.3,949.6 L194,957.4 L190.6,957.4 Z" fill="#1c1c1c"/>
<path d="M192.3,988.2 L190.6,980.4 L194,980.4 Z" fill="#1c1c1c"/>
<text x="189.4" y="969" font-size="13.5" text-anchor="middle" font-weight="normal" font-style="normal" fill="#111" transform="rotate(-90 189.4 969)">D<tspan font-size="10.26">2</tspan></text>
<line x1="209.6" y1="1000.5" x2="209.6" y2="1051.5" stroke="#1c1c1c" stroke-width="0.65"/>
<line x1="362" y1="1000.5" x2="362" y2="1051.5" stroke="#1c1c1c" stroke-width="0.65"/>
<line x1="219.1" y1="992" x2="219.1" y2="1033" stroke="#1c1c1c" stroke-width="0.65"/>
<line x1="352.8" y1="992" x2="352.8" y2="1033" stroke="#1c1c1c" stroke-width="0.65"/>
<line x1="183.6" y1="1029.6" x2="209.6" y2="1029.6" stroke="#1c1c1c" stroke-width="0.65"/>
<line x1="219.1" y1="1029.6" x2="231.1" y2="1029.6" stroke="#1c1c1c" stroke-width="0.65"/>
<path d="M209.6,1029.6 L201.8,1031.3 L201.8,1027.9 Z" fill="#1c1c1c"/>
<path d="M219.1,1029.6 L226.9,1027.9 L226.9,1031.3 Z" fill="#1c1c1c"/>
<line x1="338.8" y1="1029.6" x2="352.8" y2="1029.6" stroke="#1c1c1c" stroke-width="0.65"/>
<line x1="362" y1="1029.6" x2="387.5" y2="1029.6" stroke="#1c1c1c" stroke-width="0.65"/>
<path d="M352.8,1029.6 L345,1031.3 L345,1027.9 Z" fill="#1c1c1c"/>
<path d="M362,1029.6 L369.8,1027.9 L369.8,1031.3 Z" fill="#1c1c1c"/>
<text x="192.3" y="1026.6" font-size="13.5" text-anchor="middle" font-weight="normal" font-style="normal" fill="#111">Z<tspan font-size="10.26">2</tspan></text>
<text x="381.6" y="1026.6" font-size="13.5" text-anchor="middle" font-weight="normal" font-style="normal" fill="#111">Z<tspan font-size="10.26">2</tspan></text>
<line x1="209.6" y1="1047.5" x2="362" y2="1047.5" stroke="#1c1c1c" stroke-width="0.65"/>
<path d="M209.6,1047.5 L217.4,1045.8 L217.4,1049.2 Z" fill="#1c1c1c"/>
<path d="M362,1047.5 L354.2,1049.2 L354.2,1045.8 Z" fill="#1c1c1c"/>
<text x="286.1" y="1044" font-size="13.5" text-anchor="middle" font-weight="normal" font-style="normal" fill="#111">C<tspan font-size="10.26">2</tspan></text>
<circle cx="437.3" cy="969.2" r="28.5" fill="#fff" stroke="#1c1c1c" stroke-width="1.2"/>
<path d="M437.3,944.95 A24.25,24.25 0 0 1 461.55,969.2" fill="none" stroke="#1c1c1c" stroke-width="8.5"/>
<path d="M413.05,969.2 A24.25,24.25 0 0 0 437.3,993.45" fill="none" stroke="#1c1c1c" stroke-width="8.5"/>
<circle cx="437.3" cy="969.2" r="20.0" fill="#fff" stroke="#1c1c1c" stroke-width="0.9"/>
<rect x="432.4" y="946.35" width="10.9" height="6" fill="#fff" stroke="none"/>
<rect x="436.1" y="941.1" width="2.6" height="5.25" fill="#fff" stroke="none"/>
<path d="M432.4,949.8 V946.35 H443.3 V950.2" fill="none" stroke="#1c1c1c" stroke-width="0.9"/>
<line x1="402.8" y1="969.2" x2="473.3" y2="969.2" stroke="#1c1c1c" stroke-width="0.6" stroke-dasharray="9 2 1.5 2"/>
<line x1="437.3" y1="935.2" x2="437.3" y2="1003.2" stroke="#1c1c1c" stroke-width="0.6" stroke-dasharray="9 2 1.5 2"/>
<line x1="432.4" y1="924.5" x2="432.4" y2="945" stroke="#1c1c1c" stroke-width="0.65"/>
<line x1="443.3" y1="924.5" x2="443.3" y2="945" stroke="#1c1c1c" stroke-width="0.65"/>
<line x1="421" y1="927.4" x2="432.4" y2="927.4" stroke="#1c1c1c" stroke-width="0.65"/>
<line x1="443.3" y1="927.4" x2="481.5" y2="927.4" stroke="#1c1c1c" stroke-width="0.65"/>
<path d="M432.4,927.4 L424.6,929.1 L424.6,925.7 Z" fill="#1c1c1c"/>
<path d="M443.3,927.4 L451.1,925.7 L451.1,929.1 Z" fill="#1c1c1c"/>
<text x="469.8" y="923.5" font-size="13.5" text-anchor="middle" font-weight="normal" font-style="normal" fill="#111">N<tspan font-size="10.26">2</tspan></text>
<line x1="444" y1="946.35" x2="510.5" y2="946.35" stroke="#1c1c1c" stroke-width="0.65"/>
<line x1="442.3" y1="988.6" x2="510.5" y2="988.6" stroke="#1c1c1c" stroke-width="0.65"/>
<line x1="507.1" y1="946.35" x2="507.1" y2="988.6" stroke="#1c1c1c" stroke-width="0.65"/>
<path d="M507.1,946.35 L508.8,954.15 L505.4,954.15 Z" fill="#1c1c1c"/>
<path d="M507.1,988.6 L505.4,980.8 L508.8,980.8 Z" fill="#1c1c1c"/>
<text x="504.4" y="968" font-size="13.5" text-anchor="middle" font-weight="normal" font-style="normal" fill="#111" transform="rotate(-90 504.4 968)">M<tspan font-size="10.26">2</tspan></text>
<line x1="416.5" y1="971" x2="416.5" y2="1022.7" stroke="#1c1c1c" stroke-width="0.65"/>
<line x1="457.7" y1="971" x2="457.7" y2="1022.7" stroke="#1c1c1c" stroke-width="0.65"/>
<line x1="416.5" y1="1018.4" x2="457.7" y2="1018.4" stroke="#1c1c1c" stroke-width="0.65"/>
<path d="M416.5,1018.4 L424.3,1016.7 L424.3,1020.1 Z" fill="#1c1c1c"/>
<path d="M457.7,1018.4 L449.9,1020.1 L449.9,1016.7 Z" fill="#1c1c1c"/>
<text x="436.2" y="1013.6" font-size="13.5" text-anchor="middle" font-weight="normal" font-style="normal" fill="#111">D<tspan font-size="10.26">2</tspan></text>
<rect x="706.7" y="947.4" width="14.7" height="8" fill="#fff" stroke="#1c1c1c" stroke-width="1.4"/>
<circle cx="713.5" cy="969.0" r="16.8" fill="#fff" stroke="#1c1c1c" stroke-width="1.7"/>
<path d="M713.5,969.0 L713.5,952.2 A16.8,16.8 0 0 1 720.6,953.77 Z" fill="#1c1c1c"/>
<path d="M713.5,969.0 L713.5,985.8 A16.8,16.8 0 0 1 705.87,983.97 Z" fill="#1c1c1c"/>
<circle cx="713.5" cy="969.0" r="2.8" fill="#fff" stroke="#1c1c1c" stroke-width="1.0"/>
<line x1="692.5" y1="969" x2="735" y2="969" stroke="#1c1c1c" stroke-width="0.6" stroke-dasharray="9 2 1.5 2"/>
<line x1="713.5" y1="943.4" x2="713.5" y2="989.5" stroke="#1c1c1c" stroke-width="0.6" stroke-dasharray="9 2 1.5 2"/>
<line x1="707" y1="924.5" x2="707" y2="947.4" stroke="#1c1c1c" stroke-width="0.65"/>
<line x1="721.4" y1="924.5" x2="721.4" y2="947.4" stroke="#1c1c1c" stroke-width="0.65"/>
<line x1="695.7" y1="927.4" x2="707" y2="927.4" stroke="#1c1c1c" stroke-width="0.65"/>
<line x1="721.4" y1="927.4" x2="759.5" y2="927.4" stroke="#1c1c1c" stroke-width="0.65"/>
<path d="M707,927.4 L699.2,929.1 L699.2,925.7 Z" fill="#1c1c1c"/>
<path d="M721.4,927.4 L729.2,925.7 L729.2,929.1 Z" fill="#1c1c1c"/>
<text x="746.3" y="923.5" font-size="13.5" text-anchor="middle" font-weight="normal" font-style="normal" fill="#111">N<tspan font-size="10.26">1</tspan></text>
<line x1="724.4" y1="947.3" x2="774.2" y2="947.3" stroke="#1c1c1c" stroke-width="0.65"/>
<line x1="724.4" y1="985.9" x2="774.2" y2="985.9" stroke="#1c1c1c" stroke-width="0.65"/>
<line x1="770.5" y1="947.3" x2="770.5" y2="985.9" stroke="#1c1c1c" stroke-width="0.65"/>
<path d="M770.5,947.3 L772.2,955.1 L768.8,955.1 Z" fill="#1c1c1c"/>
<path d="M770.5,985.9 L768.8,978.1 L772.2,978.1 Z" fill="#1c1c1c"/>
<text x="764.6" y="966.1" font-size="13.5" text-anchor="middle" font-weight="normal" font-style="normal" fill="#111" transform="rotate(-90 764.6 966.1)">M<tspan font-size="10.26">1</tspan></text>
<line x1="696.5" y1="976" x2="696.5" y2="1021.4" stroke="#1c1c1c" stroke-width="0.65"/>
<line x1="730.2" y1="976" x2="730.2" y2="1021.4" stroke="#1c1c1c" stroke-width="0.65"/>
<line x1="696.5" y1="1017.9" x2="730.2" y2="1017.9" stroke="#1c1c1c" stroke-width="0.65"/>
<path d="M696.5,1017.9 L704.3,1016.2 L704.3,1019.6 Z" fill="#1c1c1c"/>
<path d="M730.2,1017.9 L722.4,1019.6 L722.4,1016.2 Z" fill="#1c1c1c"/>
<text x="713.1" y="1011.6" font-size="13.5" text-anchor="middle" font-weight="normal" font-style="normal" fill="#111">D<tspan font-size="10.26">1</tspan></text>
<text x="672.4" y="954.4" font-size="11" text-anchor="middle" font-weight="normal" font-style="normal" fill="#111">d1</text>
<path d="M678.9,951.2 H686 L706,964.4" fill="none" stroke="#1c1c1c" stroke-width="0.65"/>
<path d="M708.8,966.2 L701.58,963.54 L703.44,960.69 Z" fill="#1c1c1c"/>
<rect x="116.6" y="1072.5" width="820.8" height="20" fill="#918f90"/>
<rect x="116.6" y="1092.5" width="820.8" height="16.6" fill="#caeefb"/>
<rect x="61.1" y="1109.1" width="55.5" height="152" fill="#caeefb"/>
<rect x="61.1" y="1072.5" width="876.3" height="188.6" fill="none" stroke="#4a4a4a" stroke-width="0.8"/>
<line x1="116.6" y1="1092.5" x2="937.4" y2="1092.5" stroke="#4a4a4a" stroke-width="0.8"/>
<line x1="61.1" y1="1109.1" x2="937.4" y2="1109.1" stroke="#4a4a4a" stroke-width="0.8"/>
<line x1="61.1" y1="1125.99" x2="937.4" y2="1125.99" stroke="#8c8c8c" stroke-width="1.2"/>
<line x1="61.1" y1="1142.88" x2="937.4" y2="1142.88" stroke="#8c8c8c" stroke-width="1.2"/>
<line x1="61.1" y1="1159.77" x2="937.4" y2="1159.77" stroke="#8c8c8c" stroke-width="1.2"/>
<line x1="61.1" y1="1176.66" x2="937.4" y2="1176.66" stroke="#8c8c8c" stroke-width="1.2"/>
<line x1="61.1" y1="1193.54" x2="937.4" y2="1193.54" stroke="#8c8c8c" stroke-width="1.2"/>
<line x1="61.1" y1="1210.43" x2="937.4" y2="1210.43" stroke="#8c8c8c" stroke-width="1.2"/>
<line x1="61.1" y1="1227.32" x2="937.4" y2="1227.32" stroke="#8c8c8c" stroke-width="1.2"/>
<line x1="61.1" y1="1244.21" x2="937.4" y2="1244.21" stroke="#8c8c8c" stroke-width="1.2"/>
<text x="193.55" y="1106.3" font-size="12" text-anchor="middle" font-weight="bold" font-style="normal" fill="#111">71B</text>
<line x1="167.9" y1="1193.54" x2="167.9" y2="1244.21" stroke="#4a4a4a" stroke-width="0.8"/>
<line x1="219.2" y1="1193.54" x2="219.2" y2="1244.21" stroke="#4a4a4a" stroke-width="0.8"/>
<line x1="270.5" y1="1092.5" x2="270.5" y2="1261.1" stroke="#4a4a4a" stroke-width="0.8"/>
<text x="347.45" y="1106.3" font-size="12" text-anchor="middle" font-weight="bold" font-style="normal" fill="#111">90B</text>
<line x1="321.8" y1="1193.54" x2="321.8" y2="1261.1" stroke="#4a4a4a" stroke-width="0.8"/>
<line x1="373.1" y1="1193.54" x2="373.1" y2="1261.1" stroke="#4a4a4a" stroke-width="0.8"/>
<line x1="424.4" y1="1092.5" x2="424.4" y2="1261.1" stroke="#4a4a4a" stroke-width="0.8"/>
<text x="501.35" y="1106.3" font-size="12" text-anchor="middle" font-weight="bold" font-style="normal" fill="#111">112B</text>
<line x1="475.7" y1="1193.54" x2="475.7" y2="1261.1" stroke="#4a4a4a" stroke-width="0.8"/>
<line x1="527" y1="1193.54" x2="527" y2="1261.1" stroke="#4a4a4a" stroke-width="0.8"/>
<line x1="578.3" y1="1092.5" x2="578.3" y2="1261.1" stroke="#4a4a4a" stroke-width="0.8"/>
<text x="629.6" y="1106.3" font-size="12" text-anchor="middle" font-weight="bold" font-style="normal" fill="#111">140B</text>
<line x1="629.6" y1="1193.54" x2="629.6" y2="1261.1" stroke="#4a4a4a" stroke-width="0.8"/>
<line x1="680.9" y1="1092.5" x2="680.9" y2="1261.1" stroke="#4a4a4a" stroke-width="0.8"/>
<text x="732.2" y="1106.3" font-size="12" text-anchor="middle" font-weight="bold" font-style="normal" fill="#111">180B</text>
<line x1="732.2" y1="1193.54" x2="732.2" y2="1261.1" stroke="#4a4a4a" stroke-width="0.8"/>
<line x1="783.5" y1="1092.5" x2="783.5" y2="1261.1" stroke="#4a4a4a" stroke-width="0.8"/>
<text x="834.8" y="1106.3" font-size="12" text-anchor="middle" font-weight="bold" font-style="normal" fill="#111">200B</text>
<line x1="834.8" y1="1193.54" x2="834.8" y2="1261.1" stroke="#4a4a4a" stroke-width="0.8"/>
<line x1="886.1" y1="1092.5" x2="886.1" y2="1261.1" stroke="#4a4a4a" stroke-width="0.8"/>
<text x="911.75" y="1106.3" font-size="12" text-anchor="middle" font-weight="bold" font-style="normal" fill="#111">225B</text>
<line x1="116.6" y1="1072.5" x2="116.6" y2="1261.1" stroke="#4a4a4a" stroke-width="0.8"/>
<text x="526.4" y="1089.2" font-size="16.5" text-anchor="middle" font-weight="bold" font-style="normal" fill="#fff">TA... - TC... - TF...</text>
<text x="88.85" y="1123.19" font-size="13" text-anchor="middle" font-weight="bold" font-style="normal" fill="#111">D1 h6</text>
<text x="88.85" y="1140.08" font-size="13" text-anchor="middle" font-weight="bold" font-style="normal" fill="#111">d1</text>
<text x="88.85" y="1156.97" font-size="13" text-anchor="middle" font-weight="bold" font-style="normal" fill="#111">M1</text>
<text x="88.85" y="1173.86" font-size="13" text-anchor="middle" font-weight="bold" font-style="normal" fill="#111">N1</text>
<text x="88.85" y="1190.74" font-size="13" text-anchor="middle" font-weight="bold" font-style="normal" fill="#111">C2</text>
<text x="88.85" y="1207.63" font-size="13" text-anchor="middle" font-weight="bold" font-style="normal" fill="#111">D2 H7</text>
<text x="88.85" y="1224.52" font-size="13" text-anchor="middle" font-weight="bold" font-style="normal" fill="#111">M2</text>
<text x="88.85" y="1241.41" font-size="13" text-anchor="middle" font-weight="bold" font-style="normal" fill="#111">N2</text>
<text x="88.85" y="1258.3" font-size="13" text-anchor="middle" font-weight="bold" font-style="normal" fill="#111">Z2</text>
<text x="193.55" y="1122.79" font-size="12" text-anchor="middle" font-weight="normal" font-style="normal" fill="#111">14</text>
<text x="347.45" y="1122.79" font-size="12" text-anchor="middle" font-weight="normal" font-style="normal" fill="#111">19</text>
<text x="501.35" y="1122.79" font-size="12" text-anchor="middle" font-weight="normal" font-style="normal" fill="#111">24</text>
<text x="629.6" y="1122.79" font-size="12" text-anchor="middle" font-weight="normal" font-style="normal" fill="#111">28</text>
<text x="732.2" y="1122.79" font-size="12" text-anchor="middle" font-weight="normal" font-style="normal" fill="#111">38</text>
<text x="834.8" y="1122.79" font-size="12" text-anchor="middle" font-weight="normal" font-style="normal" fill="#111">38</text>
<text x="911.75" y="1122.79" font-size="12" text-anchor="middle" font-weight="normal" font-style="normal" fill="#111">48</text>
<text x="193.55" y="1139.68" font-size="12" text-anchor="middle" font-weight="normal" font-style="normal" fill="#111">M4x15</text>
<text x="347.45" y="1139.68" font-size="12" text-anchor="middle" font-weight="normal" font-style="normal" fill="#111">M8x22</text>
<text x="501.35" y="1139.68" font-size="12" text-anchor="middle" font-weight="normal" font-style="normal" fill="#111">M8x22</text>
<text x="629.6" y="1139.68" font-size="12" text-anchor="middle" font-weight="normal" font-style="normal" fill="#111">M8x22</text>
<text x="732.2" y="1139.68" font-size="12" text-anchor="middle" font-weight="normal" font-style="normal" fill="#111">M10x28</text>
<text x="834.8" y="1139.68" font-size="12" text-anchor="middle" font-weight="normal" font-style="normal" fill="#111">M10x28</text>
<text x="911.75" y="1139.68" font-size="12" text-anchor="middle" font-weight="normal" font-style="normal" fill="#111">M12x34</text>
<text x="193.55" y="1156.57" font-size="12" text-anchor="middle" font-weight="normal" font-style="normal" fill="#111">16</text>
<text x="347.45" y="1156.57" font-size="12" text-anchor="middle" font-weight="normal" font-style="normal" fill="#111">21.5</text>
<text x="501.35" y="1156.57" font-size="12" text-anchor="middle" font-weight="normal" font-style="normal" fill="#111">27</text>
<text x="629.6" y="1156.57" font-size="12" text-anchor="middle" font-weight="normal" font-style="normal" fill="#111">31</text>
<text x="732.2" y="1156.57" font-size="12" text-anchor="middle" font-weight="normal" font-style="normal" fill="#111">41</text>
<text x="834.8" y="1156.57" font-size="12" text-anchor="middle" font-weight="normal" font-style="normal" fill="#111">41</text>
<text x="911.75" y="1156.57" font-size="12" text-anchor="middle" font-weight="normal" font-style="normal" fill="#111">51.5</text>
<text x="193.55" y="1173.46" font-size="12" text-anchor="middle" font-weight="normal" font-style="normal" fill="#111">5</text>
<text x="347.45" y="1173.46" font-size="12" text-anchor="middle" font-weight="normal" font-style="normal" fill="#111">6</text>
<text x="501.35" y="1173.46" font-size="12" text-anchor="middle" font-weight="normal" font-style="normal" fill="#111">8</text>
<text x="629.6" y="1173.46" font-size="12" text-anchor="middle" font-weight="normal" font-style="normal" fill="#111">8</text>
<text x="732.2" y="1173.46" font-size="12" text-anchor="middle" font-weight="normal" font-style="normal" fill="#111">10</text>
<text x="834.8" y="1173.46" font-size="12" text-anchor="middle" font-weight="normal" font-style="normal" fill="#111">10</text>
<text x="911.75" y="1173.46" font-size="12" text-anchor="middle" font-weight="normal" font-style="normal" fill="#111">14</text>
<text x="193.55" y="1190.34" font-size="12" text-anchor="middle" font-weight="normal" font-style="normal" fill="#111">115</text>
<text x="347.45" y="1190.34" font-size="12" text-anchor="middle" font-weight="normal" font-style="normal" fill="#111">130</text>
<text x="501.35" y="1190.34" font-size="12" text-anchor="middle" font-weight="normal" font-style="normal" fill="#111">155</text>
<text x="629.6" y="1190.34" font-size="12" text-anchor="middle" font-weight="normal" font-style="normal" fill="#111">180</text>
<text x="732.2" y="1190.34" font-size="12" text-anchor="middle" font-weight="normal" font-style="normal" fill="#111">220</text>
<text x="834.8" y="1190.34" font-size="12" text-anchor="middle" font-weight="normal" font-style="normal" fill="#111">260</text>
<text x="911.75" y="1190.34" font-size="12" text-anchor="middle" font-weight="normal" font-style="normal" fill="#111">300</text>
<text x="142.25" y="1206.83" font-size="11.5" text-anchor="middle" font-weight="bold" font-style="normal" fill="#111">24</text>
<text x="193.55" y="1206.93" font-size="10" text-anchor="middle" font-weight="normal" font-style="normal" fill="#111">28</text>
<text x="244.85" y="1206.93" font-size="10" text-anchor="middle" font-weight="normal" font-style="normal" fill="#111">30</text>
<text x="296.15" y="1206.83" font-size="11.5" text-anchor="middle" font-weight="bold" font-style="normal" fill="#111">32</text>
<text x="347.45" y="1206.93" font-size="10" text-anchor="middle" font-weight="normal" font-style="normal" fill="#111">30</text>
<text x="398.75" y="1206.93" font-size="10" text-anchor="middle" font-weight="normal" font-style="normal" fill="#111">35</text>
<text x="450.05" y="1206.83" font-size="11.5" text-anchor="middle" font-weight="bold" font-style="normal" fill="#111">42</text>
<text x="501.35" y="1206.93" font-size="10" text-anchor="middle" font-weight="normal" font-style="normal" fill="#111">40</text>
<text x="552.65" y="1206.93" font-size="10" text-anchor="middle" font-weight="normal" font-style="normal" fill="#111">45</text>
<text x="603.95" y="1206.83" font-size="11.5" text-anchor="middle" font-weight="bold" font-style="normal" fill="#111">55</text>
<text x="655.25" y="1206.93" font-size="10" text-anchor="middle" font-weight="normal" font-style="normal" fill="#111">50</text>
<text x="706.55" y="1206.83" font-size="11.5" text-anchor="middle" font-weight="bold" font-style="normal" fill="#111">70</text>
<text x="757.85" y="1206.93" font-size="10" text-anchor="middle" font-weight="normal" font-style="normal" fill="#111">60</text>
<text x="809.15" y="1206.83" font-size="11.5" text-anchor="middle" font-weight="bold" font-style="normal" fill="#111">90</text>
<text x="860.45" y="1206.93" font-size="10" text-anchor="middle" font-weight="normal" font-style="normal" fill="#111">80</text>
<text x="911.75" y="1206.83" font-size="11.5" text-anchor="middle" font-weight="bold" font-style="normal" fill="#111">100</text>
<text x="142.25" y="1223.72" font-size="12" text-anchor="middle" font-weight="normal" font-style="normal" fill="#111">27.3</text>
<text x="193.55" y="1223.82" font-size="10" text-anchor="middle" font-weight="normal" font-style="normal" fill="#111">31.3</text>
<text x="244.85" y="1223.82" font-size="10" text-anchor="middle" font-weight="normal" font-style="normal" fill="#111">33.3</text>
<text x="296.15" y="1223.72" font-size="12" text-anchor="middle" font-weight="normal" font-style="normal" fill="#111">35.3</text>
<text x="347.45" y="1223.82" font-size="10" text-anchor="middle" font-weight="normal" font-style="normal" fill="#111">33.3</text>
<text x="398.75" y="1223.82" font-size="10" text-anchor="middle" font-weight="normal" font-style="normal" fill="#111">38.3</text>
<text x="450.05" y="1223.72" font-size="12" text-anchor="middle" font-weight="normal" font-style="normal" fill="#111">45.3</text>
<text x="501.35" y="1223.82" font-size="10" text-anchor="middle" font-weight="normal" font-style="normal" fill="#111">43.3</text>
<text x="552.65" y="1223.82" font-size="10" text-anchor="middle" font-weight="normal" font-style="normal" fill="#111">48.8</text>
<text x="603.95" y="1223.72" font-size="12" text-anchor="middle" font-weight="normal" font-style="normal" fill="#111">59.3</text>
<text x="655.25" y="1223.82" font-size="10" text-anchor="middle" font-weight="normal" font-style="normal" fill="#111">53.8</text>
<text x="706.55" y="1223.72" font-size="12" text-anchor="middle" font-weight="normal" font-style="normal" fill="#111">74.9</text>
<text x="757.85" y="1223.82" font-size="10" text-anchor="middle" font-weight="normal" font-style="normal" fill="#111">64.4</text>
<text x="809.15" y="1223.72" font-size="12" text-anchor="middle" font-weight="normal" font-style="normal" fill="#111">95.4</text>
<text x="860.45" y="1223.82" font-size="10" text-anchor="middle" font-weight="normal" font-style="normal" fill="#111">85.4</text>
<text x="911.75" y="1223.72" font-size="12" text-anchor="middle" font-weight="normal" font-style="normal" fill="#111">106.4</text>
<text x="142.25" y="1240.61" font-size="12" text-anchor="middle" font-weight="normal" font-style="normal" fill="#111">8</text>
<text x="193.55" y="1240.71" font-size="10" text-anchor="middle" font-weight="normal" font-style="normal" fill="#111">8</text>
<text x="244.85" y="1240.71" font-size="10" text-anchor="middle" font-weight="normal" font-style="normal" fill="#111">8</text>
<text x="296.15" y="1240.61" font-size="12" text-anchor="middle" font-weight="normal" font-style="normal" fill="#111">10</text>
<text x="347.45" y="1240.71" font-size="10" text-anchor="middle" font-weight="normal" font-style="normal" fill="#111">8</text>
<text x="398.75" y="1240.71" font-size="10" text-anchor="middle" font-weight="normal" font-style="normal" fill="#111">10</text>
<text x="450.05" y="1240.61" font-size="12" text-anchor="middle" font-weight="normal" font-style="normal" fill="#111">12</text>
<text x="501.35" y="1240.71" font-size="10" text-anchor="middle" font-weight="normal" font-style="normal" fill="#111">12</text>
<text x="552.65" y="1240.71" font-size="10" text-anchor="middle" font-weight="normal" font-style="normal" fill="#111">14</text>
<text x="603.95" y="1240.61" font-size="12" text-anchor="middle" font-weight="normal" font-style="normal" fill="#111">16</text>
<text x="655.25" y="1240.71" font-size="10" text-anchor="middle" font-weight="normal" font-style="normal" fill="#111">14</text>
<text x="706.55" y="1240.61" font-size="12" text-anchor="middle" font-weight="normal" font-style="normal" fill="#111">20</text>
<text x="757.85" y="1240.71" font-size="10" text-anchor="middle" font-weight="normal" font-style="normal" fill="#111">18</text>
<text x="809.15" y="1240.61" font-size="12" text-anchor="middle" font-weight="normal" font-style="normal" fill="#111">25</text>
<text x="860.45" y="1240.71" font-size="10" text-anchor="middle" font-weight="normal" font-style="normal" fill="#111">22</text>
<text x="911.75" y="1240.61" font-size="12" text-anchor="middle" font-weight="normal" font-style="normal" fill="#111">28</text>
<text x="296.15" y="1257.5" font-size="12" text-anchor="middle" font-weight="normal" font-style="normal" fill="#111">8.7</text>
<text x="347.45" y="1257.6" font-size="10" text-anchor="middle" font-weight="normal" font-style="normal" fill="#111">8.7</text>
<text x="398.75" y="1257.6" font-size="10" text-anchor="middle" font-weight="normal" font-style="normal" fill="#111">8.4</text>
<text x="450.05" y="1257.5" font-size="12" text-anchor="middle" font-weight="normal" font-style="normal" fill="#111">11</text>
<text x="501.35" y="1257.6" font-size="10" text-anchor="middle" font-weight="normal" font-style="normal" fill="#111">11</text>
<text x="552.65" y="1257.6" font-size="10" text-anchor="middle" font-weight="normal" font-style="normal" fill="#111">11</text>
<text x="603.95" y="1257.5" font-size="12" text-anchor="middle" font-weight="normal" font-style="normal" fill="#111">11.9</text>
<text x="655.25" y="1257.6" font-size="10" text-anchor="middle" font-weight="normal" font-style="normal" fill="#111">11.9</text>
<text x="706.55" y="1257.5" font-size="12" text-anchor="middle" font-weight="normal" font-style="normal" fill="#111">15.4</text>
<text x="757.85" y="1257.6" font-size="10" text-anchor="middle" font-weight="normal" font-style="normal" fill="#111">15.9</text>
<text x="809.15" y="1257.5" font-size="12" text-anchor="middle" font-weight="normal" font-style="normal" fill="#111">18.9</text>
<text x="860.45" y="1257.6" font-size="10" text-anchor="middle" font-weight="normal" font-style="normal" fill="#111">18.9</text>
<text x="911.75" y="1257.5" font-size="12" text-anchor="middle" font-weight="normal" font-style="normal" fill="#111">20</text>
<line x1="187.3" y1="1254.3" x2="199.2" y2="1254.3" stroke="#333" stroke-width="0.9"/>
<path d="M454.69,1326 L454.69,1322.63 L456.29,1322.45 L463.55,1322.04 L463.79,1321.57 L464.03,1321.1 L460.09,1314.98 L459.3,1313.58 L460.76,1311.49 L462.35,1311.75 L469.45,1313.32 L469.8,1312.93 L470.16,1312.55 L468.03,1305.59 L467.65,1304.03 L469.62,1302.42 L471.08,1303.09 L477.49,1306.54 L477.94,1306.26 L478.39,1305.99 L478.22,1298.71 L478.29,1297.11 L480.62,1296.09 L481.84,1297.13 L487.07,1302.19 L487.58,1302.04 L488.09,1301.9 L489.9,1294.86 L490.4,1293.33 L492.92,1292.98 L493.81,1294.32 L497.47,1300.6 L498,1300.6 L498.53,1300.6 L502.19,1294.32 L503.08,1292.98 L505.6,1293.33 L506.1,1294.86 L507.91,1301.9 L508.42,1302.04 L508.93,1302.19 L514.16,1297.13 L515.38,1296.09 L517.71,1297.11 L517.78,1298.71 L517.61,1305.99 L518.06,1306.26 L518.51,1306.54 L524.92,1303.09 L526.38,1302.42 L528.35,1304.03 L527.97,1305.59 L525.84,1312.55 L526.2,1312.93 L526.55,1313.32 L533.65,1311.75 L535.24,1311.49 L536.7,1313.58 L535.91,1314.98 L531.97,1321.1 L532.21,1321.57 L532.45,1322.04 L539.71,1322.45 L541.31,1322.63 L541.31,1326 Z" fill="#918f90" stroke="#918f90" stroke-width="1.6" stroke-linejoin="round"/>
<rect x="61" y="1318" width="876" height="22.6" fill="#918f90"/>
<text x="497.6" y="1321.6" font-size="11.5" text-anchor="middle" font-weight="bold" font-style="normal" fill="#fff">25</text>
<defs><g id="wm" fill="none" stroke="#bdbdbd" stroke-width="1.1" stroke-linejoin="round" stroke-linecap="round">
<path d="M35.61,-23.1 L-1.2,-42.6 L-38.01,-23.1 L-38.01,15.9 L-1.2,35.4" stroke-width="1.7"/>
<path d="M34.4,-19.89 L1.23,-40.03 L-34.38,-23.75 L-36.8,12.69 L-3.63,32.83" stroke-width="1.1"/>
<path d="M33.04,-16.61 L3.64,-37.31 L-30.6,-24.3 L-35.44,9.41 L-6.04,30.11" stroke-width="1.1"/>
<path d="M31.45,-13.33 L5.94,-34.41 L-26.72,-24.68 L-33.85,6.13 L-8.34,27.21" stroke-width="1.1"/>
<path d="M29.6,-10.12 L8.04,-31.33 L-22.76,-24.81 L-32,2.92 L-10.44,24.13" stroke-width="1.1"/>
<path d="M27.4,-7.29 L9.62,-28.17 L-18.98,-24.48 L-29.8,0.09 L-12.02,20.97" stroke-width="1.0"/>
<path d="M35.4,-22.6 V-5.6" stroke-width="1.3"/>
<text x="0" y="9.9" font-size="14.4" fill="#bdbdbd" fill-opacity="0.72" stroke="none" textLength="129.4" lengthAdjust="spacing">ПРОМЫШЛЕННЫЕ</text>
<text x="-0.5" y="33" font-size="21.8" fill="#bdbdbd" fill-opacity="0.72" stroke="none" textLength="128" lengthAdjust="spacing">РЕДУКТОРЫ</text>
</g></defs>
<g opacity="0.3">
<use href="#wm" x="140.8" y="-67.9"/>
<use href="#wm" x="457.8" y="-67.9"/>
<use href="#wm" x="774.8" y="-67.9"/>
<use href="#wm" x="24.2" y="34.8"/>
<use href="#wm" x="341.2" y="34.8"/>
<use href="#wm" x="658.2" y="34.8"/>
<use href="#wm" x="975.2" y="34.8"/>
<use href="#wm" x="-92.4" y="137.5"/>
<use href="#wm" x="224.6" y="137.5"/>
<use href="#wm" x="541.6" y="137.5"/>
<use href="#wm" x="858.6" y="137.5"/>
<use href="#wm" x="108" y="240.2"/>
<use href="#wm" x="425" y="240.2"/>
<use href="#wm" x="742" y="240.2"/>
<use href="#wm" x="-8.6" y="342.9"/>
<use href="#wm" x="308.4" y="342.9"/>
<use href="#wm" x="625.4" y="342.9"/>
<use href="#wm" x="942.4" y="342.9"/>
<use href="#wm" x="-125.2" y="445.6"/>
<use href="#wm" x="191.8" y="445.6"/>
<use href="#wm" x="508.8" y="445.6"/>
<use href="#wm" x="825.8" y="445.6"/>
<use href="#wm" x="75.2" y="548.3"/>
<use href="#wm" x="392.2" y="548.3"/>
<use href="#wm" x="709.2" y="548.3"/>
<use href="#wm" x="1026.2" y="548.3"/>
<use href="#wm" x="-41.4" y="651"/>
<use href="#wm" x="275.6" y="651"/>
<use href="#wm" x="592.6" y="651"/>
<use href="#wm" x="909.6" y="651"/>
<use href="#wm" x="159" y="753.7"/>
<use href="#wm" x="476" y="753.7"/>
<use href="#wm" x="793" y="753.7"/>
<use href="#wm" x="42.4" y="856.4"/>
<use href="#wm" x="359.4" y="856.4"/>
<use href="#wm" x="676.4" y="856.4"/>
<use href="#wm" x="993.4" y="856.4"/>
<use href="#wm" x="-74.2" y="959.1"/>
<use href="#wm" x="242.8" y="959.1"/>
<use href="#wm" x="559.8" y="959.1"/>
<use href="#wm" x="876.8" y="959.1"/>
<use href="#wm" x="126.2" y="1061.8"/>
<use href="#wm" x="443.2" y="1061.8"/>
<use href="#wm" x="760.2" y="1061.8"/>
<use href="#wm" x="9.6" y="1164.5"/>
<use href="#wm" x="326.6" y="1164.5"/>
<use href="#wm" x="643.6" y="1164.5"/>
<use href="#wm" x="960.6" y="1164.5"/>
<use href="#wm" x="-107" y="1267.2"/>
<use href="#wm" x="210" y="1267.2"/>
<use href="#wm" x="527" y="1267.2"/>
<use href="#wm" x="844" y="1267.2"/>
<use href="#wm" x="93.4" y="1369.9"/>
<use href="#wm" x="410.4" y="1369.9"/>
<use href="#wm" x="727.4" y="1369.9"/>
<use href="#wm" x="1044.4" y="1369.9"/>
<use href="#wm" x="-23.2" y="1472.6"/>
<use href="#wm" x="293.8" y="1472.6"/>
<use href="#wm" x="610.8" y="1472.6"/>
<use href="#wm" x="927.8" y="1472.6"/>
</g>
</svg>
</body></html>
